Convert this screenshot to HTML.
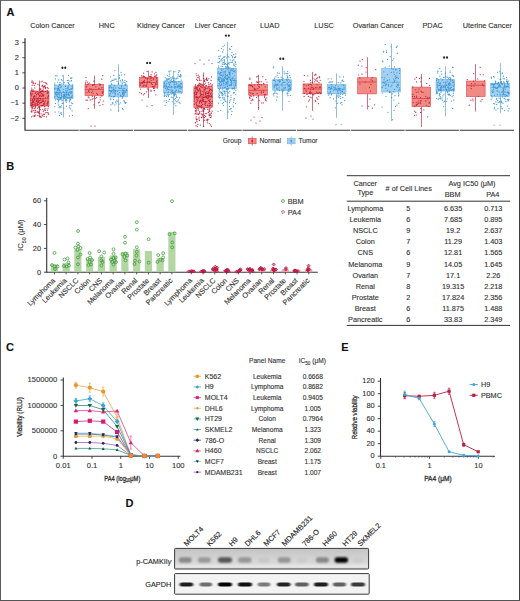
<!DOCTYPE html>
<html><head><meta charset="utf-8"><style>
html,body{margin:0;padding:0;background:#fff;}
body{width:520px;height:601px;overflow:hidden;}
svg{display:block;font-family:"Liberation Sans",sans-serif;}
text{stroke:#333;stroke-width:0.12px;}
</style></head><body>
<svg width="520" height="601" viewBox="0 0 520 601">
<rect x="0" y="0" width="520" height="601" fill="#fff"/>
<text x="6.40" y="16.00" font-size="11" text-anchor="start" font-weight="bold" fill="#111">A</text>
<text x="6.30" y="170.00" font-size="11" text-anchor="start" font-weight="bold" fill="#111">B</text>
<text x="6.10" y="351.00" font-size="11" text-anchor="start" font-weight="bold" fill="#111">C</text>
<text x="341.30" y="351.00" font-size="11" text-anchor="start" font-weight="bold" fill="#111">E</text>
<text x="125.40" y="507.00" font-size="11" text-anchor="start" font-weight="bold" fill="#111">D</text>
<line x1="25.00" y1="38.20" x2="25.00" y2="130.70" stroke="#2a2a2a" stroke-width="1.2"/>
<line x1="22.40" y1="42.55" x2="25.00" y2="42.55" stroke="#333" stroke-width="0.9"/>
<text x="18.90" y="44.75" font-size="7.4" text-anchor="end" font-weight="normal" fill="#333">3</text>
<line x1="22.40" y1="57.70" x2="25.00" y2="57.70" stroke="#333" stroke-width="0.9"/>
<text x="18.90" y="59.90" font-size="7.4" text-anchor="end" font-weight="normal" fill="#333">2</text>
<line x1="22.40" y1="72.85" x2="25.00" y2="72.85" stroke="#333" stroke-width="0.9"/>
<text x="18.90" y="75.05" font-size="7.4" text-anchor="end" font-weight="normal" fill="#333">1</text>
<line x1="22.40" y1="88.00" x2="25.00" y2="88.00" stroke="#333" stroke-width="0.9"/>
<text x="18.90" y="90.20" font-size="7.4" text-anchor="end" font-weight="normal" fill="#333">0</text>
<line x1="22.40" y1="103.15" x2="25.00" y2="103.15" stroke="#333" stroke-width="0.9"/>
<text x="18.90" y="105.35" font-size="7.4" text-anchor="end" font-weight="normal" fill="#333">&#8722;1</text>
<line x1="22.40" y1="118.30" x2="25.00" y2="118.30" stroke="#333" stroke-width="0.9"/>
<text x="18.90" y="120.50" font-size="7.4" text-anchor="end" font-weight="normal" fill="#333">&#8722;2</text>
<line x1="25.20" y1="130.20" x2="78.70" y2="130.20" stroke="#333" stroke-width="1.1"/>
<text x="52.45" y="27.90" font-size="7.3" text-anchor="middle" font-weight="normal" fill="#333">Colon Cancer</text>
<line x1="79.50" y1="130.20" x2="133.00" y2="130.20" stroke="#333" stroke-width="1.1"/>
<text x="106.75" y="27.90" font-size="7.3" text-anchor="middle" font-weight="normal" fill="#333">HNC</text>
<line x1="133.80" y1="130.20" x2="187.30" y2="130.20" stroke="#333" stroke-width="1.1"/>
<text x="161.05" y="27.90" font-size="7.3" text-anchor="middle" font-weight="normal" fill="#333">Kidney Cancer</text>
<line x1="188.10" y1="130.20" x2="241.70" y2="130.20" stroke="#333" stroke-width="1.1"/>
<text x="215.40" y="27.90" font-size="7.3" text-anchor="middle" font-weight="normal" fill="#333">Liver Cancer</text>
<line x1="242.50" y1="130.20" x2="296.00" y2="130.20" stroke="#333" stroke-width="1.1"/>
<text x="269.75" y="27.90" font-size="7.3" text-anchor="middle" font-weight="normal" fill="#333">LUAD</text>
<line x1="296.80" y1="130.20" x2="350.30" y2="130.20" stroke="#333" stroke-width="1.1"/>
<text x="324.05" y="27.90" font-size="7.3" text-anchor="middle" font-weight="normal" fill="#333">LUSC</text>
<line x1="351.10" y1="130.20" x2="404.60" y2="130.20" stroke="#333" stroke-width="1.1"/>
<text x="378.35" y="27.90" font-size="7.3" text-anchor="middle" font-weight="normal" fill="#333">Ovarian Cancer</text>
<line x1="405.40" y1="130.20" x2="458.90" y2="130.20" stroke="#333" stroke-width="1.1"/>
<text x="432.65" y="27.90" font-size="7.3" text-anchor="middle" font-weight="normal" fill="#333">PDAC</text>
<line x1="459.70" y1="130.20" x2="514.00" y2="130.20" stroke="#333" stroke-width="1.1"/>
<text x="487.35" y="27.90" font-size="7.3" text-anchor="middle" font-weight="normal" fill="#333">Uterine Cancer</text>
<line x1="39.50" y1="80.60" x2="39.50" y2="91.00" stroke="#c44a66" stroke-width="0.8"/>
<line x1="39.50" y1="106.00" x2="39.50" y2="117.50" stroke="#c44a66" stroke-width="0.8"/>
<rect x="30.40" y="91.00" width="18.60" height="15.00" fill="#f28a84" stroke="#d9454f" stroke-width="0.6"/>
<line x1="30.40" y1="98.60" x2="49.00" y2="98.60" stroke="#d9454f" stroke-width="0.9"/>
<path d="M42.42 95.71h0.01M32.00 104.22h0.01M31.74 88.11h0.01M39.83 96.19h0.01M31.96 109.98h0.01M32.33 101.33h0.01M32.93 107.99h0.01M47.76 101.18h0.01M41.09 113.81h0.01M31.54 116.75h0.01M33.30 104.32h0.01M32.82 91.36h0.01M33.95 91.15h0.01M41.17 117.46h0.01M40.56 91.61h0.01M31.83 90.26h0.01M42.95 105.54h0.01M38.40 101.33h0.01M38.86 92.73h0.01M36.10 112.00h0.01M35.09 103.28h0.01M41.04 81.80h0.01M43.83 94.97h0.01M32.83 91.14h0.01M33.44 82.08h0.01M39.50 107.69h0.01M44.46 114.42h0.01M41.01 102.58h0.01M43.22 105.36h0.01M41.40 91.70h0.01M45.82 87.69h0.01M47.70 92.61h0.01M31.79 82.16h0.01M43.33 101.23h0.01M37.64 102.52h0.01M42.74 90.30h0.01M33.72 110.70h0.01M32.81 100.33h0.01M33.03 116.10h0.01M35.16 105.40h0.01M32.15 80.92h0.01M38.79 112.67h0.01M45.45 91.45h0.01M38.18 104.42h0.01M37.16 91.73h0.01M34.88 102.59h0.01M34.90 104.15h0.01M35.43 83.63h0.01M30.77 99.98h0.01M40.89 89.15h0.01M47.86 103.74h0.01M41.82 93.64h0.01M42.87 85.96h0.01M44.74 106.43h0.01M37.76 112.44h0.01M37.88 84.30h0.01M31.82 110.99h0.01M31.91 108.03h0.01M36.82 100.27h0.01M31.65 104.92h0.01M32.53 104.89h0.01M37.24 98.61h0.01M41.75 102.17h0.01M36.95 103.58h0.01M37.25 105.33h0.01M48.58 113.90h0.01M39.09 113.49h0.01M32.54 93.85h0.01M36.87 99.07h0.01M33.61 96.64h0.01M40.21 102.50h0.01M31.19 106.91h0.01M40.21 109.54h0.01M43.23 95.57h0.01M33.71 97.85h0.01M44.59 109.07h0.01M36.63 94.62h0.01M48.43 101.98h0.01M45.43 110.55h0.01M44.02 82.28h0.01M37.10 100.53h0.01M31.22 111.72h0.01M35.37 107.35h0.01M43.17 100.15h0.01M47.57 110.11h0.01M48.48 95.29h0.01M34.67 108.64h0.01M34.78 95.60h0.01M41.93 101.04h0.01M46.91 105.61h0.01M42.45 105.35h0.01M45.09 87.74h0.01M47.08 112.50h0.01M44.78 106.80h0.01M33.91 98.61h0.01M44.90 85.74h0.01M48.19 88.56h0.01M37.83 115.73h0.01M43.75 114.04h0.01M33.42 101.36h0.01M46.99 103.62h0.01M45.58 100.75h0.01M48.35 92.66h0.01M40.58 92.84h0.01M33.06 89.85h0.01M42.39 101.21h0.01M38.51 94.23h0.01M34.50 112.82h0.01M35.23 83.38h0.01M41.26 96.37h0.01M35.37 106.45h0.01M47.08 93.38h0.01M37.07 101.44h0.01M46.98 84.19h0.01M38.27 102.38h0.01M40.27 109.86h0.01M40.12 92.02h0.01M34.00 110.34h0.01M30.77 99.99h0.01M39.22 100.65h0.01M43.75 91.99h0.01M40.03 89.21h0.01M40.70 95.12h0.01M40.79 99.71h0.01M35.17 93.38h0.01M39.84 95.34h0.01M40.81 117.22h0.01M38.68 100.12h0.01M39.92 88.43h0.01M43.17 89.91h0.01M39.30 85.30h0.01M47.65 102.60h0.01M47.66 91.37h0.01M47.68 97.73h0.01M45.82 112.63h0.01M38.66 102.24h0.01M32.01 102.84h0.01M42.75 98.85h0.01M44.81 102.87h0.01M43.59 103.67h0.01M42.58 94.66h0.01M48.12 112.76h0.01M34.65 116.39h0.01M39.47 109.18h0.01M48.52 95.26h0.01M38.47 101.83h0.01M39.98 92.79h0.01M36.43 94.65h0.01M43.70 104.74h0.01M38.63 112.45h0.01M31.03 100.30h0.01M39.92 90.87h0.01M31.86 111.99h0.01M48.19 96.74h0.01M31.41 105.42h0.01M44.72 103.88h0.01M38.30 97.84h0.01M47.11 104.34h0.01M33.39 102.17h0.01M47.25 90.68h0.01M32.31 82.79h0.01M31.74 91.09h0.01M32.00 94.11h0.01M47.59 87.61h0.01M32.21 85.13h0.01M46.11 83.43h0.01M38.87 107.49h0.01M47.38 91.00h0.01M35.52 110.40h0.01M34.99 107.84h0.01M32.67 108.35h0.01M34.33 100.46h0.01M36.32 101.60h0.01M35.92 92.15h0.01M39.70 116.04h0.01M31.03 103.04h0.01M35.21 107.71h0.01M40.62 116.36h0.01M34.11 100.32h0.01M32.61 102.65h0.01M39.61 103.50h0.01M45.72 87.71h0.01M43.08 88.11h0.01M48.38 106.72h0.01M43.42 86.88h0.01M42.15 115.93h0.01M31.68 89.99h0.01M33.04 104.32h0.01M35.30 114.89h0.01M33.64 106.36h0.01M46.37 116.77h0.01M42.77 109.26h0.01M35.98 96.93h0.01M38.97 106.61h0.01M35.44 105.15h0.01M48.01 108.57h0.01M35.10 112.21h0.01M48.08 96.17h0.01M30.72 94.73h0.01M37.57 108.20h0.01M34.32 85.44h0.01M39.79 100.66h0.01M32.32 107.20h0.01M37.89 98.87h0.01M36.18 100.86h0.01M34.89 99.21h0.01M44.21 86.71h0.01M42.54 91.51h0.01M37.71 93.69h0.01M33.39 83.59h0.01M31.49 95.98h0.01M45.74 82.62h0.01M43.91 110.61h0.01M45.32 88.65h0.01M39.78 107.17h0.01M45.73 108.87h0.01M41.21 105.52h0.01M43.18 111.61h0.01M34.84 87.94h0.01M37.19 104.36h0.01M32.59 99.74h0.01M42.00 105.81h0.01M41.97 86.23h0.01M30.76 93.08h0.01M45.06 86.75h0.01M40.33 98.45h0.01M42.57 85.27h0.01M35.24 115.02h0.01M32.04 105.83h0.01M34.39 96.82h0.01M44.02 116.27h0.01M37.59 111.27h0.01M39.32 96.60h0.01M41.81 90.81h0.01M42.27 81.00h0.01M35.27 104.08h0.01M44.08 101.50h0.01M30.92 93.70h0.01M31.79 112.00h0.01M43.16 96.62h0.01M42.86 114.88h0.01M39.06 95.15h0.01M39.09 111.40h0.01M34.29 115.69h0.01M48.31 114.35h0.01M38.96 100.50h0.01M45.46 97.77h0.01M35.54 110.36h0.01M34.48 96.15h0.01M41.17 105.72h0.01" fill="none" stroke="#bc1a34" stroke-width="1.25" stroke-linecap="round" opacity="0.9"/>
<line x1="63.50" y1="75.00" x2="63.50" y2="85.00" stroke="#78acd6" stroke-width="0.8"/>
<line x1="63.50" y1="98.70" x2="63.50" y2="117.50" stroke="#78acd6" stroke-width="0.8"/>
<rect x="54.40" y="85.00" width="18.60" height="13.70" fill="#a2d0f2" stroke="#6fb3e6" stroke-width="0.6"/>
<line x1="54.40" y1="92.50" x2="73.00" y2="92.50" stroke="#6fb3e6" stroke-width="0.9"/>
<path d="M57.25 89.93h0.01M57.09 88.36h0.01M70.66 97.18h0.01M67.36 80.50h0.01M63.45 94.79h0.01M55.15 112.01h0.01M62.81 103.20h0.01M60.14 92.74h0.01M60.39 97.85h0.01M69.82 99.03h0.01M69.80 107.83h0.01M56.86 92.67h0.01M70.93 105.51h0.01M59.92 84.66h0.01M72.68 84.78h0.01M65.31 99.11h0.01M59.65 84.96h0.01M55.57 99.96h0.01M59.84 106.51h0.01M71.54 102.91h0.01M63.90 92.53h0.01M58.12 99.73h0.01M70.62 108.94h0.01M71.14 97.43h0.01M71.63 77.97h0.01M55.59 75.60h0.01M67.88 87.10h0.01M66.30 97.17h0.01M71.38 91.70h0.01M56.99 95.34h0.01M60.06 82.44h0.01M68.00 93.97h0.01M66.51 99.56h0.01M60.12 91.22h0.01M57.71 82.07h0.01M57.61 88.57h0.01M63.65 97.73h0.01M58.66 111.81h0.01M58.16 86.70h0.01M56.33 94.06h0.01M59.00 89.84h0.01M59.35 95.87h0.01M68.19 82.65h0.01M64.14 82.68h0.01M61.48 97.45h0.01M59.70 90.40h0.01M72.12 95.30h0.01M66.03 100.15h0.01M70.23 100.24h0.01M59.17 94.05h0.01M61.90 99.65h0.01M69.98 100.12h0.01M55.28 93.85h0.01M67.47 90.83h0.01M65.27 100.76h0.01M54.70 84.82h0.01M69.56 105.75h0.01M59.17 107.65h0.01M64.10 96.62h0.01M66.98 95.87h0.01M66.35 106.23h0.01M68.47 86.10h0.01M55.41 78.91h0.01M68.78 95.59h0.01M66.32 94.76h0.01M60.17 113.05h0.01M66.15 97.36h0.01M67.27 97.55h0.01M64.14 95.18h0.01M65.19 94.78h0.01M65.52 86.46h0.01M54.89 96.73h0.01M71.96 88.57h0.01M66.30 102.19h0.01M58.93 100.28h0.01M59.15 84.07h0.01M60.23 106.43h0.01M55.09 88.24h0.01M62.26 75.83h0.01M59.33 92.65h0.01M58.78 79.93h0.01M62.27 100.66h0.01M66.99 94.28h0.01M68.00 97.76h0.01M63.79 108.06h0.01M60.31 99.26h0.01M69.46 115.89h0.01M68.39 93.28h0.01M60.01 98.96h0.01M58.07 102.78h0.01M58.72 88.63h0.01M71.78 78.22h0.01M57.33 99.28h0.01M72.23 86.46h0.01M57.25 96.45h0.01M61.78 95.57h0.01M70.87 93.54h0.01M72.66 103.62h0.01M71.47 80.43h0.01M71.55 89.10h0.01M68.13 97.68h0.01M61.52 105.82h0.01M61.43 95.21h0.01M54.75 89.17h0.01M59.74 97.38h0.01M56.93 75.97h0.01M72.06 110.94h0.01M69.49 94.78h0.01M69.50 100.83h0.01M63.22 89.28h0.01M61.41 93.70h0.01M61.26 97.77h0.01M70.85 88.97h0.01M69.31 101.79h0.01M68.50 94.29h0.01M55.83 94.87h0.01M71.26 93.12h0.01M70.87 91.69h0.01M60.80 107.74h0.01M65.81 88.59h0.01M59.42 115.41h0.01M59.66 90.48h0.01M54.77 83.01h0.01M66.11 93.23h0.01M58.91 94.41h0.01M63.25 91.64h0.01M61.66 114.48h0.01M59.22 85.09h0.01M71.41 80.76h0.01M57.99 97.07h0.01M69.51 97.39h0.01M68.61 75.26h0.01M60.45 84.75h0.01M61.21 86.31h0.01M58.25 93.25h0.01M68.25 88.08h0.01M55.31 92.56h0.01M64.65 95.86h0.01M70.60 78.21h0.01M72.48 115.41h0.01M56.44 92.06h0.01M63.67 96.34h0.01M58.92 89.47h0.01M62.20 80.77h0.01M68.16 80.38h0.01M69.95 81.07h0.01M69.84 89.60h0.01M59.99 87.64h0.01M67.99 82.68h0.01M58.29 88.11h0.01M57.46 92.61h0.01M70.62 99.40h0.01M61.83 83.78h0.01M72.56 87.83h0.01M69.25 84.44h0.01M66.46 92.13h0.01M63.25 96.77h0.01M69.44 92.21h0.01M55.43 103.49h0.01M58.11 90.98h0.01M72.21 96.96h0.01M61.40 79.68h0.01M59.38 99.20h0.01M68.70 83.44h0.01M65.43 96.60h0.01M65.86 90.74h0.01M57.24 94.28h0.01M58.37 101.14h0.01M66.43 92.04h0.01M58.36 104.94h0.01M66.91 100.67h0.01M58.03 93.09h0.01M69.02 89.64h0.01M64.56 98.24h0.01M61.82 96.42h0.01M64.60 94.15h0.01M57.65 89.38h0.01M67.22 88.77h0.01M60.24 84.84h0.01M71.86 96.53h0.01M61.13 87.01h0.01M62.20 103.49h0.01M61.25 112.91h0.01M58.37 97.33h0.01M54.81 106.54h0.01" fill="none" stroke="#3390d0" stroke-width="1.25" stroke-linecap="round" opacity="0.9"/>
<line x1="94.50" y1="75.60" x2="94.50" y2="84.40" stroke="#c44a66" stroke-width="0.8"/>
<line x1="94.50" y1="95.60" x2="94.50" y2="108.70" stroke="#c44a66" stroke-width="0.8"/>
<rect x="85.00" y="84.40" width="18.60" height="11.20" fill="#f28a84" stroke="#d9454f" stroke-width="0.6"/>
<line x1="85.00" y1="89.60" x2="103.60" y2="89.60" stroke="#d9454f" stroke-width="0.9"/>
<path d="M100.07 97.22h0.01M92.61 84.91h0.01M88.23 96.93h0.01M85.57 83.84h0.01M101.68 79.14h0.01M86.90 86.09h0.01M94.38 84.26h0.01M87.93 84.44h0.01M101.96 87.66h0.01M87.26 100.17h0.01M102.70 75.68h0.01M88.85 90.56h0.01M102.86 104.51h0.01M93.99 104.83h0.01M92.28 96.29h0.01M100.14 99.81h0.01M88.18 83.52h0.01M92.58 91.01h0.01M100.53 84.27h0.01M89.23 92.30h0.01M92.50 85.29h0.01M87.52 82.06h0.01M89.75 88.75h0.01M86.04 87.01h0.01M85.99 77.60h0.01M100.39 84.64h0.01M95.20 98.50h0.01M96.59 97.72h0.01M95.79 86.81h0.01M92.96 98.32h0.01M93.19 85.05h0.01M85.72 82.54h0.01M89.53 83.04h0.01M99.04 83.52h0.01M88.53 91.45h0.01M93.82 81.21h0.01M93.05 93.25h0.01M86.95 92.51h0.01M86.03 80.99h0.01M96.76 93.39h0.01M99.30 102.19h0.01M94.51 96.75h0.01M92.10 99.53h0.01M102.42 93.12h0.01M103.23 101.11h0.01M98.48 102.86h0.01M102.97 91.92h0.01M94.15 84.95h0.01M88.27 108.68h0.01M99.49 84.98h0.01M91.62 92.57h0.01M98.91 88.40h0.01M90.25 99.88h0.01M99.98 105.53h0.01M101.86 96.12h0.01M89.05 97.85h0.01M91.04 88.86h0.01M85.96 100.14h0.01M102.16 91.78h0.01M97.53 94.41h0.01M91.00 126.00h0.01M95.00 126.00h0.01" fill="none" stroke="#bc1a34" stroke-width="1.25" stroke-linecap="round" opacity="0.9"/>
<line x1="118.50" y1="64.40" x2="118.50" y2="85.00" stroke="#78acd6" stroke-width="0.8"/>
<line x1="118.50" y1="96.90" x2="118.50" y2="112.00" stroke="#78acd6" stroke-width="0.8"/>
<rect x="108.70" y="85.00" width="18.60" height="11.90" fill="#a2d0f2" stroke="#6fb3e6" stroke-width="0.6"/>
<line x1="108.70" y1="90.60" x2="127.30" y2="90.60" stroke="#6fb3e6" stroke-width="0.9"/>
<path d="M123.13 95.10h0.01M111.07 87.51h0.01M115.48 79.00h0.01M124.71 88.33h0.01M124.89 80.31h0.01M110.88 86.88h0.01M116.10 103.76h0.01M123.36 90.08h0.01M119.39 88.25h0.01M116.96 81.57h0.01M112.18 102.83h0.01M123.76 90.49h0.01M113.57 87.99h0.01M119.55 75.27h0.01M120.95 72.25h0.01M109.61 90.41h0.01M111.69 91.12h0.01M118.23 84.01h0.01M125.12 84.71h0.01M120.76 95.13h0.01M109.40 95.55h0.01M110.91 99.35h0.01M115.43 90.74h0.01M119.60 92.59h0.01M112.68 102.81h0.01M111.43 83.89h0.01M125.86 83.98h0.01M110.72 90.81h0.01M120.49 95.91h0.01M116.24 101.87h0.01M113.76 80.11h0.01M119.12 104.02h0.01M115.31 91.57h0.01M125.87 85.11h0.01M122.20 83.47h0.01M109.79 90.79h0.01M118.57 110.81h0.01M110.05 85.52h0.01M123.02 94.44h0.01M125.94 102.39h0.01M111.56 91.52h0.01M118.13 94.59h0.01M120.55 102.76h0.01M114.57 92.85h0.01M114.40 85.86h0.01M123.09 109.31h0.01M121.88 96.48h0.01M122.41 108.62h0.01M117.37 91.32h0.01M113.07 90.13h0.01M110.90 81.49h0.01M115.04 90.89h0.01M122.49 93.21h0.01M121.81 85.17h0.01M113.79 75.49h0.01M123.19 82.21h0.01M118.42 87.65h0.01M126.37 89.46h0.01M112.91 103.94h0.01M113.69 91.79h0.01M113.25 89.60h0.01M122.43 89.83h0.01M114.88 70.62h0.01M113.31 96.69h0.01M125.34 85.53h0.01M120.97 81.90h0.01M126.62 81.26h0.01M121.56 74.99h0.01M124.44 94.01h0.01M119.27 78.28h0.01M114.54 96.37h0.01M110.40 93.69h0.01M125.39 103.28h0.01M110.92 91.94h0.01M125.72 92.32h0.01M109.52 88.02h0.01M109.75 94.88h0.01M121.55 86.45h0.01M122.26 79.58h0.01M115.54 102.04h0.01M123.72 95.62h0.01M110.19 98.94h0.01M124.62 74.74h0.01M110.93 109.89h0.01M112.70 80.37h0.01M124.26 92.49h0.01M123.62 92.20h0.01M120.37 80.28h0.01M114.17 79.02h0.01M122.63 94.03h0.01M112.69 93.09h0.01M109.38 86.93h0.01M113.62 99.50h0.01M115.62 87.92h0.01M114.77 105.12h0.01M124.32 101.38h0.01M120.13 88.39h0.01M116.86 100.06h0.01M122.91 92.47h0.01M118.68 83.19h0.01M112.90 102.58h0.01M123.76 93.25h0.01M112.07 87.84h0.01M122.72 96.88h0.01M126.60 90.65h0.01M117.85 101.46h0.01M123.34 90.90h0.01M115.25 94.97h0.01M123.97 100.61h0.01M114.11 89.28h0.01M117.97 93.79h0.01M110.98 104.74h0.01M123.18 88.37h0.01M121.55 88.02h0.01M115.40 93.62h0.01M116.22 79.23h0.01M110.55 76.82h0.01M124.99 102.69h0.01M113.74 96.87h0.01M125.22 91.60h0.01M124.91 82.49h0.01M113.20 90.54h0.01M122.58 80.67h0.01M122.55 93.40h0.01M114.88 85.94h0.01M111.80 84.48h0.01M122.36 98.20h0.01M112.05 80.40h0.01M119.43 77.33h0.01M111.27 96.64h0.01" fill="none" stroke="#3390d0" stroke-width="1.25" stroke-linecap="round" opacity="0.9"/>
<line x1="148.50" y1="70.60" x2="148.50" y2="77.50" stroke="#c44a66" stroke-width="0.8"/>
<line x1="148.50" y1="87.20" x2="148.50" y2="98.00" stroke="#c44a66" stroke-width="0.8"/>
<rect x="139.30" y="77.50" width="18.60" height="9.70" fill="#f28a84" stroke="#d9454f" stroke-width="0.6"/>
<line x1="139.30" y1="82.50" x2="157.90" y2="82.50" stroke="#d9454f" stroke-width="0.9"/>
<path d="M143.88 85.93h0.01M152.26 84.62h0.01M154.79 88.01h0.01M144.06 84.79h0.01M145.48 85.85h0.01M145.51 78.15h0.01M143.01 81.89h0.01M141.43 93.63h0.01M156.92 80.64h0.01M157.31 88.01h0.01M153.91 86.59h0.01M143.13 81.67h0.01M151.08 74.62h0.01M146.59 86.21h0.01M140.21 85.45h0.01M152.08 71.93h0.01M148.61 89.81h0.01M142.15 76.93h0.01M150.47 76.38h0.01M155.94 72.43h0.01M147.34 88.96h0.01M147.18 71.47h0.01M143.71 76.97h0.01M153.53 79.85h0.01M151.83 78.02h0.01M145.23 77.36h0.01M150.91 76.16h0.01M153.68 88.44h0.01M152.44 86.70h0.01M147.22 78.64h0.01M147.79 78.41h0.01M151.75 77.00h0.01M156.34 77.23h0.01M153.61 86.65h0.01M146.60 91.78h0.01M140.29 83.71h0.01M153.67 78.27h0.01M156.53 81.32h0.01M149.94 79.10h0.01M149.34 82.09h0.01M151.11 80.69h0.01M154.52 73.80h0.01M156.66 74.95h0.01M143.38 81.46h0.01M153.33 79.53h0.01M141.80 75.71h0.01M140.62 89.00h0.01M144.54 81.82h0.01M147.13 81.52h0.01M147.17 83.17h0.01M144.37 80.29h0.01M143.64 75.95h0.01M149.09 81.56h0.01M146.66 84.93h0.01M143.42 94.80h0.01M154.17 90.80h0.01M151.02 91.26h0.01M143.67 73.15h0.01M156.95 84.23h0.01M154.34 76.11h0.01M154.29 90.43h0.01M149.47 76.43h0.01M141.85 83.66h0.01M154.91 85.78h0.01M144.41 76.50h0.01M147.27 78.46h0.01M142.95 86.24h0.01M144.66 93.65h0.01M144.01 82.69h0.01M147.31 79.79h0.01M151.07 90.05h0.01M156.32 78.70h0.01M154.98 76.57h0.01M155.90 94.75h0.01M153.71 87.09h0.01M151.00 90.86h0.01M139.87 92.66h0.01M151.41 83.74h0.01M142.17 82.50h0.01M143.81 85.73h0.01M142.35 83.56h0.01M155.87 75.75h0.01M155.64 83.59h0.01M150.55 78.16h0.01M155.69 84.52h0.01M147.00 106.00h0.01M152.00 105.50h0.01M142.00 100.00h0.01" fill="none" stroke="#bc1a34" stroke-width="1.25" stroke-linecap="round" opacity="0.9"/>
<line x1="173.50" y1="70.60" x2="173.50" y2="81.25" stroke="#78acd6" stroke-width="0.8"/>
<line x1="173.50" y1="93.00" x2="173.50" y2="115.00" stroke="#78acd6" stroke-width="0.8"/>
<rect x="163.70" y="81.25" width="18.60" height="11.75" fill="#a2d0f2" stroke="#6fb3e6" stroke-width="0.6"/>
<line x1="163.70" y1="87.00" x2="182.30" y2="87.00" stroke="#6fb3e6" stroke-width="0.9"/>
<path d="M178.19 74.57h0.01M176.47 90.13h0.01M173.55 82.20h0.01M179.89 86.53h0.01M173.99 77.84h0.01M166.51 86.43h0.01M172.88 93.48h0.01M166.60 96.32h0.01M172.84 90.59h0.01M179.53 76.38h0.01M164.12 87.13h0.01M174.13 92.40h0.01M175.98 78.93h0.01M171.54 91.65h0.01M181.29 80.03h0.01M175.45 98.28h0.01M164.51 92.78h0.01M180.77 77.02h0.01M169.95 78.78h0.01M172.72 97.57h0.01M180.16 85.83h0.01M175.26 100.85h0.01M170.09 89.99h0.01M172.54 92.49h0.01M173.46 80.78h0.01M171.83 87.79h0.01M171.60 81.18h0.01M169.27 71.94h0.01M178.90 81.68h0.01M168.89 78.69h0.01M173.12 92.99h0.01M178.26 99.82h0.01M169.96 85.05h0.01M174.56 84.06h0.01M175.43 93.85h0.01M177.01 87.54h0.01M179.94 84.62h0.01M169.41 84.39h0.01M164.11 86.23h0.01M174.96 94.40h0.01M175.84 105.67h0.01M175.01 91.74h0.01M176.54 78.10h0.01M174.73 78.98h0.01M176.01 84.52h0.01M172.24 81.65h0.01M167.26 87.33h0.01M164.67 83.07h0.01M175.80 90.03h0.01M178.16 76.22h0.01M174.12 99.15h0.01M171.59 86.64h0.01M169.73 94.54h0.01M180.81 75.92h0.01M164.98 92.38h0.01M166.14 84.80h0.01M178.59 86.00h0.01M172.04 78.29h0.01M174.66 95.77h0.01M180.88 87.78h0.01M171.42 97.04h0.01M165.84 85.83h0.01M166.73 83.37h0.01M164.28 82.35h0.01M166.19 100.50h0.01M181.39 87.41h0.01M166.32 102.28h0.01M164.32 96.45h0.01M177.20 85.78h0.01M167.37 80.76h0.01M176.84 101.60h0.01M179.40 91.76h0.01M175.32 86.55h0.01M176.77 83.45h0.01M168.57 92.07h0.01M164.21 100.79h0.01M164.27 83.99h0.01M165.43 77.81h0.01M169.60 74.23h0.01M179.50 86.34h0.01M172.75 81.90h0.01M174.35 94.93h0.01M171.90 90.13h0.01M178.35 84.88h0.01M170.54 82.72h0.01M171.52 79.62h0.01M170.94 77.50h0.01M178.12 91.84h0.01M165.09 80.52h0.01M181.53 84.11h0.01M169.98 82.37h0.01M174.90 71.69h0.01M174.82 103.63h0.01M169.55 84.73h0.01M170.78 70.91h0.01M176.33 95.09h0.01M178.53 72.43h0.01M169.10 76.16h0.01M171.61 93.95h0.01M174.56 87.07h0.01M164.76 94.50h0.01M179.00 70.68h0.01M174.29 93.77h0.01M168.93 71.13h0.01M176.32 96.59h0.01M180.45 74.55h0.01M173.97 84.94h0.01M178.35 90.08h0.01M180.77 91.54h0.01M168.21 101.11h0.01M172.38 76.95h0.01M167.72 79.01h0.01M178.25 86.58h0.01M172.27 101.84h0.01M177.90 100.75h0.01M168.19 95.45h0.01M179.93 71.04h0.01M173.39 78.28h0.01M167.40 75.74h0.01M167.46 88.74h0.01M170.53 92.84h0.01M174.16 99.54h0.01M166.68 78.58h0.01M164.80 93.18h0.01M165.91 95.62h0.01M175.39 86.85h0.01M174.75 88.21h0.01M170.21 82.16h0.01M164.60 85.27h0.01M181.83 86.79h0.01M174.21 93.85h0.01M168.71 79.66h0.01M181.04 88.71h0.01M177.81 78.16h0.01M168.57 96.60h0.01M167.25 92.80h0.01M165.51 88.41h0.01M179.67 97.79h0.01M172.25 90.58h0.01M165.16 105.47h0.01M174.77 80.90h0.01M181.27 83.55h0.01M168.63 89.70h0.01M181.22 75.78h0.01M176.05 82.19h0.01M166.88 79.72h0.01M181.38 93.04h0.01M164.70 93.29h0.01M168.61 86.69h0.01M180.28 75.99h0.01M179.07 102.40h0.01M176.77 101.96h0.01M175.64 91.56h0.01M166.61 90.00h0.01M177.59 86.74h0.01M169.38 99.42h0.01M174.65 82.23h0.01M169.83 87.21h0.01M168.63 82.98h0.01M167.03 94.25h0.01M168.29 94.17h0.01M164.23 95.33h0.01M176.91 97.49h0.01M180.70 87.82h0.01M167.97 89.27h0.01M180.00 103.36h0.01M166.52 80.10h0.01M180.72 83.36h0.01M179.16 88.31h0.01M170.12 80.52h0.01" fill="none" stroke="#3390d0" stroke-width="1.25" stroke-linecap="round" opacity="0.9"/>
<line x1="203.50" y1="72.50" x2="203.50" y2="86.70" stroke="#c44a66" stroke-width="0.8"/>
<line x1="203.50" y1="107.50" x2="203.50" y2="126.70" stroke="#c44a66" stroke-width="0.8"/>
<rect x="193.90" y="86.70" width="18.60" height="20.80" fill="#f28a84" stroke="#d9454f" stroke-width="0.6"/>
<line x1="193.90" y1="97.00" x2="212.50" y2="97.00" stroke="#d9454f" stroke-width="0.9"/>
<path d="M209.02 84.89h0.01M196.77 75.72h0.01M198.19 100.08h0.01M204.16 120.09h0.01M196.80 105.60h0.01M201.61 105.43h0.01M197.00 88.27h0.01M200.22 93.13h0.01M197.22 126.54h0.01M210.46 83.65h0.01M196.26 97.77h0.01M210.31 102.28h0.01M206.23 96.30h0.01M199.35 101.29h0.01M198.84 114.22h0.01M212.04 101.44h0.01M212.17 111.15h0.01M199.41 103.29h0.01M210.33 93.86h0.01M199.48 120.47h0.01M211.82 105.86h0.01M200.34 125.12h0.01M196.72 99.84h0.01M203.68 126.43h0.01M197.54 97.36h0.01M198.13 110.59h0.01M197.44 89.49h0.01M208.07 93.39h0.01M195.63 94.58h0.01M195.77 87.18h0.01M199.13 83.12h0.01M197.91 85.73h0.01M208.81 78.77h0.01M204.69 81.44h0.01M207.39 98.70h0.01M201.55 102.49h0.01M208.79 96.09h0.01M200.23 91.92h0.01M203.07 114.00h0.01M202.78 100.31h0.01M197.55 105.50h0.01M209.17 88.34h0.01M200.88 90.87h0.01M204.91 103.90h0.01M202.22 115.86h0.01M203.48 97.55h0.01M208.90 114.90h0.01M209.78 113.97h0.01M201.07 86.61h0.01M207.72 119.15h0.01M211.37 126.33h0.01M203.11 108.87h0.01M203.87 78.27h0.01M194.57 95.43h0.01M197.48 107.85h0.01M196.05 94.79h0.01M194.74 96.92h0.01M195.94 125.72h0.01M194.52 93.83h0.01M204.99 87.45h0.01M206.85 80.51h0.01M196.05 88.41h0.01M195.01 113.89h0.01M196.41 79.25h0.01M199.23 79.00h0.01M196.40 97.74h0.01M204.85 90.12h0.01M209.70 101.72h0.01M207.64 109.23h0.01M197.16 113.23h0.01M201.20 113.87h0.01M203.66 111.28h0.01M208.18 119.62h0.01M200.23 91.02h0.01M202.04 106.81h0.01M210.63 124.95h0.01M208.87 93.75h0.01M203.51 99.98h0.01M211.44 92.85h0.01M201.80 107.81h0.01M205.59 92.36h0.01M195.45 84.62h0.01M201.99 111.42h0.01M196.71 93.87h0.01M211.65 96.91h0.01M205.60 103.09h0.01M210.12 108.77h0.01M198.98 118.80h0.01M206.41 101.78h0.01M210.84 94.20h0.01M205.38 116.26h0.01M202.01 96.93h0.01M211.32 115.88h0.01M205.86 93.95h0.01M196.37 109.93h0.01M203.45 75.67h0.01M203.81 95.02h0.01M196.87 114.34h0.01M199.48 102.89h0.01M201.52 102.81h0.01M195.78 94.28h0.01M204.03 108.30h0.01M204.46 108.43h0.01M205.91 79.28h0.01M202.50 104.40h0.01M204.06 120.38h0.01M199.79 83.95h0.01M198.56 85.81h0.01M201.10 100.32h0.01M204.74 115.38h0.01M209.71 111.49h0.01M198.49 98.08h0.01M199.33 80.34h0.01M211.98 90.81h0.01M197.05 89.59h0.01M195.40 122.71h0.01M195.32 108.58h0.01M201.18 85.09h0.01M196.17 73.84h0.01M198.25 106.37h0.01M196.98 121.69h0.01M200.27 90.67h0.01M205.29 83.24h0.01M209.50 115.69h0.01M207.50 105.14h0.01M207.58 80.36h0.01M208.33 98.08h0.01M206.95 79.68h0.01M209.87 103.99h0.01M194.28 92.93h0.01M203.16 99.03h0.01M211.53 76.81h0.01M208.31 82.70h0.01M209.91 90.05h0.01M202.34 85.34h0.01M202.44 87.68h0.01M201.23 94.86h0.01M204.20 84.46h0.01M208.37 86.92h0.01M209.49 106.11h0.01M197.52 80.44h0.01M199.67 97.05h0.01M204.67 109.50h0.01M195.78 113.11h0.01M209.38 109.08h0.01M209.29 90.50h0.01M201.88 107.18h0.01M210.59 94.35h0.01M204.37 101.85h0.01M203.15 97.33h0.01M203.89 120.55h0.01M212.17 84.36h0.01M206.53 78.67h0.01M201.21 94.98h0.01M200.52 84.14h0.01M211.26 113.32h0.01M195.98 88.69h0.01M200.94 80.30h0.01M204.53 81.06h0.01M210.04 108.66h0.01M202.12 114.55h0.01M205.44 93.09h0.01M203.74 111.28h0.01M208.89 96.66h0.01M211.81 103.51h0.01M209.07 108.98h0.01M210.30 89.63h0.01M206.62 96.42h0.01M210.19 117.33h0.01M199.42 89.17h0.01M203.41 101.33h0.01M197.48 87.14h0.01M205.54 96.70h0.01M212.09 85.63h0.01M205.66 88.39h0.01M208.38 112.48h0.01M199.72 101.21h0.01M199.68 96.51h0.01M209.36 95.74h0.01M197.74 77.55h0.01M203.16 85.30h0.01M205.84 85.65h0.01M203.77 93.05h0.01M201.60 117.36h0.01M196.39 96.64h0.01M196.12 111.54h0.01M196.00 118.92h0.01M209.02 106.07h0.01M205.23 113.63h0.01M194.42 98.94h0.01M208.07 91.87h0.01M200.57 86.30h0.01M197.25 119.16h0.01M210.47 96.27h0.01M204.68 104.09h0.01M201.14 87.27h0.01M195.18 110.85h0.01M211.47 112.91h0.01M202.11 84.18h0.01M194.99 88.57h0.01M210.95 89.07h0.01M210.38 105.28h0.01M208.89 86.49h0.01M211.48 90.13h0.01M203.12 116.97h0.01M201.22 108.05h0.01M207.13 93.46h0.01M209.96 99.39h0.01M202.92 110.18h0.01M197.32 100.09h0.01M200.65 86.00h0.01M199.43 113.13h0.01M203.81 90.01h0.01M201.14 94.15h0.01M196.42 92.39h0.01M209.06 100.28h0.01M197.64 90.19h0.01M199.30 106.39h0.01M206.16 97.33h0.01M200.35 101.14h0.01M195.87 110.59h0.01M199.05 117.23h0.01M202.18 101.15h0.01M209.25 90.12h0.01M200.55 100.10h0.01M207.20 88.53h0.01M197.95 124.45h0.01M198.29 114.60h0.01M202.35 91.50h0.01M198.89 113.59h0.01M210.39 114.88h0.01M198.63 84.52h0.01M205.15 89.35h0.01M196.41 104.37h0.01M199.07 77.95h0.01M208.09 95.44h0.01M204.42 80.24h0.01M199.79 112.10h0.01M197.39 92.01h0.01M209.52 101.21h0.01M196.16 87.27h0.01M204.32 117.72h0.01M199.55 85.40h0.01M195.39 111.03h0.01M196.47 92.89h0.01M207.10 107.35h0.01M210.56 93.86h0.01M208.15 112.51h0.01M196.58 119.94h0.01M199.18 76.59h0.01M206.14 120.10h0.01M200.53 101.34h0.01M206.79 77.88h0.01M198.67 108.93h0.01M205.52 105.29h0.01M197.47 85.31h0.01M207.41 122.77h0.01M207.03 119.79h0.01M197.12 101.31h0.01M197.77 98.12h0.01M194.91 92.10h0.01M199.80 111.41h0.01M209.31 90.79h0.01M204.46 89.65h0.01M202.03 94.56h0.01M206.52 85.54h0.01M209.22 96.61h0.01M208.18 97.56h0.01M209.57 95.98h0.01M205.13 101.50h0.01M196.20 108.15h0.01M208.45 100.42h0.01M207.69 105.56h0.01M201.29 117.57h0.01M207.66 109.36h0.01M195.82 103.01h0.01M211.23 86.07h0.01M206.65 113.53h0.01M205.51 94.94h0.01M206.77 92.12h0.01M201.91 98.52h0.01M196.50 94.38h0.01M206.85 97.35h0.01M208.70 92.44h0.01M211.65 95.65h0.01M205.68 116.54h0.01M195.27 85.86h0.01M200.64 93.84h0.01M199.79 88.29h0.01M196.66 102.51h0.01M198.48 90.92h0.01M198.55 75.06h0.01M211.05 80.49h0.01M200.53 95.40h0.01M196.75 87.30h0.01M208.88 84.31h0.01M204.07 91.67h0.01M206.20 97.63h0.01M204.98 87.72h0.01M209.16 103.41h0.01M200.69 106.69h0.01M197.92 105.48h0.01M197.75 108.75h0.01M206.83 101.68h0.01M200.04 89.91h0.01M202.64 99.45h0.01M195.49 90.96h0.01M194.39 104.17h0.01M195.71 122.93h0.01M207.11 95.74h0.01M196.16 116.91h0.01M203.00 94.56h0.01M203.98 87.92h0.01M194.35 101.06h0.01M205.50 116.60h0.01M211.03 86.36h0.01M198.63 90.32h0.01M196.70 87.48h0.01M209.31 123.48h0.01M199.53 101.65h0.01M209.42 105.73h0.01M210.88 117.43h0.01M209.15 110.38h0.01M207.56 120.79h0.01M209.06 92.48h0.01M199.96 105.82h0.01M200.85 83.89h0.01M209.17 111.50h0.01M204.40 97.30h0.01M205.51 101.51h0.01M195.00 63.50h0.01M200.00 60.00h0.01M204.00 64.00h0.01M209.00 60.00h0.01M212.00 63.50h0.01" fill="none" stroke="#bc1a34" stroke-width="1.25" stroke-linecap="round" opacity="0.9"/>
<line x1="227.50" y1="41.70" x2="227.50" y2="68.30" stroke="#78acd6" stroke-width="0.8"/>
<line x1="227.50" y1="88.30" x2="227.50" y2="119.00" stroke="#78acd6" stroke-width="0.8"/>
<rect x="217.70" y="68.30" width="18.60" height="20.00" fill="#a2d0f2" stroke="#6fb3e6" stroke-width="0.6"/>
<line x1="217.70" y1="78.30" x2="236.30" y2="78.30" stroke="#6fb3e6" stroke-width="0.9"/>
<path d="M234.29 88.14h0.01M235.01 57.29h0.01M220.83 60.85h0.01M223.39 78.92h0.01M230.38 73.00h0.01M220.95 75.34h0.01M219.61 92.02h0.01M221.43 93.76h0.01M231.01 82.26h0.01M233.40 106.74h0.01M232.16 78.80h0.01M229.91 67.50h0.01M227.26 83.77h0.01M225.90 66.43h0.01M229.99 84.71h0.01M220.96 93.07h0.01M223.32 49.78h0.01M224.27 60.40h0.01M221.52 84.98h0.01M226.29 89.59h0.01M235.48 84.98h0.01M235.54 103.26h0.01M235.31 62.17h0.01M219.08 58.54h0.01M230.18 59.77h0.01M228.28 68.66h0.01M235.15 70.41h0.01M223.39 57.04h0.01M224.18 80.89h0.01M221.40 80.95h0.01M230.22 75.97h0.01M229.89 72.38h0.01M224.70 80.33h0.01M227.54 64.84h0.01M228.17 70.82h0.01M221.25 72.49h0.01M234.02 82.73h0.01M233.52 71.39h0.01M222.56 76.14h0.01M222.53 93.40h0.01M226.81 88.56h0.01M228.31 68.27h0.01M220.03 74.76h0.01M219.44 58.60h0.01M225.34 76.66h0.01M233.54 92.59h0.01M227.91 85.41h0.01M220.06 72.80h0.01M235.83 53.96h0.01M232.94 77.08h0.01M225.06 71.52h0.01M228.13 96.18h0.01M231.95 111.43h0.01M219.04 95.06h0.01M222.26 97.75h0.01M228.70 76.50h0.01M221.84 80.16h0.01M225.67 71.12h0.01M234.00 100.43h0.01M228.13 56.52h0.01M234.52 57.54h0.01M231.42 84.49h0.01M224.15 71.77h0.01M232.86 80.22h0.01M220.21 55.97h0.01M235.06 61.36h0.01M230.99 95.67h0.01M219.79 97.74h0.01M227.88 83.75h0.01M234.66 80.68h0.01M230.15 71.43h0.01M226.04 78.02h0.01M233.09 88.02h0.01M218.38 71.95h0.01M219.99 74.74h0.01M227.98 81.27h0.01M223.22 69.28h0.01M220.60 72.71h0.01M233.76 64.89h0.01M232.55 56.27h0.01M235.08 72.87h0.01M220.72 91.83h0.01M227.03 79.48h0.01M218.64 96.90h0.01M221.28 59.24h0.01M225.07 87.61h0.01M226.56 57.95h0.01M225.08 93.91h0.01M233.71 102.33h0.01M223.93 73.78h0.01M221.89 74.52h0.01M218.79 93.86h0.01M221.06 66.07h0.01M228.39 67.60h0.01M224.98 91.07h0.01M228.42 77.31h0.01M224.01 79.59h0.01M235.76 94.62h0.01M218.82 80.42h0.01M222.91 91.77h0.01M222.92 95.85h0.01M228.24 66.73h0.01M227.51 78.30h0.01M218.61 65.95h0.01M233.70 54.65h0.01M231.94 68.83h0.01M224.53 64.19h0.01M223.07 62.67h0.01M234.90 86.76h0.01M230.26 49.38h0.01M231.31 69.92h0.01M227.16 102.05h0.01M227.91 69.20h0.01M225.31 67.95h0.01M223.82 90.80h0.01M235.79 83.29h0.01M222.38 64.20h0.01M222.23 79.95h0.01M218.13 73.62h0.01M233.68 84.80h0.01M228.24 62.88h0.01M223.44 82.98h0.01M223.43 80.98h0.01M223.55 83.10h0.01M234.87 75.55h0.01M224.13 59.72h0.01M219.44 95.58h0.01M221.22 68.97h0.01M224.43 57.03h0.01M233.63 80.70h0.01M219.22 62.80h0.01M222.97 46.67h0.01M222.64 81.39h0.01M222.82 87.10h0.01M230.68 79.59h0.01M221.61 81.26h0.01M228.85 92.99h0.01M221.54 92.39h0.01M231.21 62.13h0.01M219.43 97.88h0.01M232.57 73.68h0.01M220.46 87.92h0.01M221.39 68.75h0.01M229.52 48.83h0.01M234.61 71.33h0.01M231.49 81.40h0.01M229.68 91.13h0.01M224.08 59.78h0.01M219.03 90.83h0.01M229.27 74.41h0.01M224.02 80.62h0.01M222.63 58.29h0.01M226.34 79.01h0.01M228.15 111.97h0.01M235.78 81.18h0.01M231.03 97.52h0.01M223.92 85.36h0.01M220.57 85.50h0.01M231.81 83.09h0.01M225.62 101.29h0.01M227.70 92.86h0.01M229.83 62.26h0.01M228.83 68.34h0.01M222.64 66.44h0.01M230.81 99.61h0.01M223.57 80.44h0.01M231.91 52.73h0.01M223.01 94.44h0.01M227.42 75.99h0.01M218.16 85.65h0.01M226.56 75.44h0.01M224.52 63.96h0.01M235.81 57.10h0.01M219.62 81.71h0.01M218.50 103.01h0.01M227.03 81.78h0.01M227.99 82.20h0.01M224.58 92.91h0.01M220.69 110.29h0.01M234.59 88.99h0.01M220.92 100.09h0.01M222.37 103.62h0.01M235.68 82.97h0.01M224.20 57.20h0.01M232.41 78.44h0.01M234.26 65.58h0.01M219.94 81.56h0.01M229.62 77.73h0.01M225.23 72.87h0.01M228.16 81.73h0.01M225.38 74.37h0.01M229.29 109.51h0.01M222.03 60.92h0.01M225.81 78.16h0.01M222.16 89.87h0.01M229.57 85.56h0.01M223.37 102.26h0.01M228.25 88.66h0.01M220.82 77.93h0.01M222.81 97.82h0.01M231.53 55.61h0.01M223.97 83.64h0.01M226.74 67.45h0.01M230.29 85.12h0.01M228.76 72.73h0.01M233.89 59.62h0.01M221.78 83.98h0.01M232.04 88.74h0.01M233.54 68.93h0.01M235.91 90.53h0.01M223.36 105.29h0.01M235.54 85.43h0.01M218.17 79.40h0.01M231.25 85.51h0.01M219.76 73.83h0.01M219.62 89.29h0.01M224.11 97.92h0.01M233.88 98.83h0.01M235.63 66.76h0.01M232.26 88.92h0.01M230.41 80.53h0.01M222.17 95.39h0.01M225.75 82.45h0.01M235.83 80.65h0.01M223.70 80.12h0.01M226.77 83.73h0.01M220.44 73.10h0.01M230.34 69.91h0.01M220.66 82.35h0.01M220.02 77.01h0.01M224.36 60.86h0.01M224.29 45.07h0.01M221.87 79.08h0.01M231.17 108.41h0.01M222.91 72.07h0.01M219.24 83.44h0.01M218.78 88.74h0.01M228.02 63.13h0.01M224.53 77.46h0.01M229.76 100.90h0.01M227.79 79.81h0.01M235.68 56.64h0.01M233.73 71.44h0.01M223.73 75.29h0.01M225.54 63.63h0.01M224.94 92.77h0.01M225.38 75.82h0.01M218.09 111.37h0.01M222.58 51.90h0.01M229.00 57.06h0.01M221.57 70.42h0.01M220.09 85.99h0.01M234.35 92.64h0.01M218.89 56.64h0.01M229.63 73.79h0.01M227.88 65.96h0.01M218.02 62.43h0.01M231.43 114.58h0.01M228.66 89.03h0.01M235.91 64.19h0.01M231.38 80.34h0.01M224.82 99.11h0.01M227.47 74.81h0.01M229.03 63.88h0.01M229.32 72.52h0.01M227.78 66.56h0.01M222.77 81.72h0.01M234.36 98.44h0.01M227.40 54.91h0.01M226.58 82.27h0.01M234.69 79.78h0.01M227.52 86.38h0.01M232.64 60.34h0.01M222.30 75.58h0.01M226.29 91.22h0.01M229.53 102.65h0.01M233.62 93.00h0.01M218.78 50.51h0.01M232.72 57.72h0.01M220.21 97.32h0.01M219.85 84.72h0.01M224.42 87.59h0.01M226.15 84.21h0.01M219.58 61.29h0.01M230.51 109.12h0.01M232.37 62.22h0.01M231.66 83.60h0.01M224.60 91.48h0.01M227.37 96.41h0.01M224.12 79.41h0.01M224.86 92.54h0.01M228.27 88.17h0.01M219.04 79.41h0.01M222.94 88.56h0.01M223.83 99.57h0.01M219.64 79.74h0.01M229.45 106.39h0.01M225.62 84.59h0.01M232.26 70.58h0.01M218.79 67.74h0.01M225.97 68.65h0.01M223.31 62.57h0.01M225.34 95.66h0.01M224.34 62.14h0.01M224.94 56.58h0.01M221.45 48.59h0.01M235.48 62.28h0.01M229.98 74.90h0.01M223.93 64.39h0.01M224.83 100.80h0.01M227.46 89.02h0.01M231.63 46.38h0.01M218.46 78.98h0.01M226.32 64.50h0.01M233.11 69.20h0.01M234.03 63.84h0.01M225.92 86.87h0.01M232.84 60.56h0.01M230.07 79.27h0.01M218.73 77.40h0.01" fill="none" stroke="#3390d0" stroke-width="1.25" stroke-linecap="round" opacity="0.9"/>
<line x1="258.50" y1="74.70" x2="258.50" y2="84.60" stroke="#c44a66" stroke-width="0.8"/>
<line x1="258.50" y1="95.20" x2="258.50" y2="110.00" stroke="#c44a66" stroke-width="0.8"/>
<rect x="248.70" y="84.60" width="18.60" height="10.60" fill="#f28a84" stroke="#d9454f" stroke-width="0.6"/>
<line x1="248.70" y1="90.30" x2="267.30" y2="90.30" stroke="#d9454f" stroke-width="0.9"/>
<path d="M261.24 81.74h0.01M262.86 76.64h0.01M251.13 85.49h0.01M263.71 90.83h0.01M250.83 93.16h0.01M259.16 100.64h0.01M249.99 96.70h0.01M257.69 84.70h0.01M249.99 78.21h0.01M259.51 87.11h0.01M266.97 82.10h0.01M251.62 96.31h0.01M249.11 85.13h0.01M266.80 97.88h0.01M254.63 89.28h0.01M253.59 95.90h0.01M258.20 96.15h0.01M256.56 81.95h0.01M264.60 96.18h0.01M263.44 92.26h0.01M252.64 93.78h0.01M249.94 85.19h0.01M257.36 82.34h0.01M257.80 88.42h0.01M263.43 83.32h0.01M252.60 86.25h0.01M249.92 98.40h0.01M254.66 85.07h0.01M259.17 81.81h0.01M254.82 88.51h0.01M254.25 88.08h0.01M261.79 103.12h0.01M257.18 93.45h0.01M265.83 79.58h0.01M250.04 95.36h0.01M249.88 79.26h0.01M264.53 94.50h0.01M252.24 99.11h0.01M265.60 94.58h0.01M257.97 76.21h0.01M261.13 84.61h0.01M252.80 87.09h0.01M264.09 84.00h0.01M252.72 100.20h0.01M250.82 103.19h0.01M266.12 100.82h0.01M256.46 97.47h0.01M265.31 86.76h0.01M261.35 84.81h0.01M261.52 91.70h0.01M249.75 92.35h0.01M253.19 93.42h0.01M259.48 84.26h0.01M251.77 85.76h0.01M265.41 98.77h0.01M251.73 82.99h0.01M263.39 102.75h0.01M249.59 97.49h0.01M255.84 89.25h0.01M258.82 86.49h0.01M250.68 85.65h0.01M256.74 76.99h0.01M261.22 92.90h0.01M251.20 100.58h0.01M265.62 99.29h0.01M258.47 107.51h0.01M254.23 89.81h0.01M257.94 82.17h0.01M265.74 100.19h0.01M264.55 97.28h0.01M251.00 120.00h0.01M256.00 123.00h0.01M260.00 121.00h0.01M254.00 117.00h0.01M262.00 117.50h0.01" fill="none" stroke="#bc1a34" stroke-width="1.25" stroke-linecap="round" opacity="0.9"/>
<line x1="282.50" y1="66.20" x2="282.50" y2="79.70" stroke="#78acd6" stroke-width="0.8"/>
<line x1="282.50" y1="90.30" x2="282.50" y2="110.80" stroke="#78acd6" stroke-width="0.8"/>
<rect x="272.70" y="79.70" width="18.60" height="10.60" fill="#a2d0f2" stroke="#6fb3e6" stroke-width="0.6"/>
<line x1="272.70" y1="85.00" x2="291.30" y2="85.00" stroke="#6fb3e6" stroke-width="0.9"/>
<path d="M283.76 90.00h0.01M275.51 81.73h0.01M277.88 84.14h0.01M277.09 96.89h0.01M289.64 75.54h0.01M290.41 95.41h0.01M279.20 87.15h0.01M273.90 95.80h0.01M279.00 81.07h0.01M286.36 79.37h0.01M276.22 86.85h0.01M274.25 86.55h0.01M283.07 78.57h0.01M287.18 93.21h0.01M283.72 90.63h0.01M282.24 83.00h0.01M274.75 85.49h0.01M283.40 82.47h0.01M279.35 81.67h0.01M275.95 76.81h0.01M276.05 93.22h0.01M288.16 91.59h0.01M288.72 82.47h0.01M274.69 80.57h0.01M288.82 85.55h0.01M282.65 91.83h0.01M275.12 91.18h0.01M282.64 80.39h0.01M282.12 85.95h0.01M280.27 81.50h0.01M276.66 88.87h0.01M288.69 89.06h0.01M282.03 89.17h0.01M289.98 86.06h0.01M281.79 84.13h0.01M285.40 87.61h0.01M277.13 75.12h0.01M277.76 85.00h0.01M273.56 80.46h0.01M278.26 77.56h0.01M289.03 90.91h0.01M277.21 93.92h0.01M283.72 90.22h0.01M274.12 87.63h0.01M277.42 72.90h0.01M273.74 66.78h0.01M284.13 71.90h0.01M279.16 79.84h0.01M287.59 71.52h0.01M273.19 67.80h0.01M289.93 89.21h0.01M274.58 78.16h0.01M277.41 89.22h0.01M275.72 83.79h0.01M279.20 73.21h0.01M276.95 88.32h0.01M278.96 89.03h0.01M287.25 80.93h0.01M287.03 75.85h0.01M289.35 86.17h0.01M276.58 85.10h0.01M284.25 73.82h0.01M274.66 92.82h0.01M285.91 73.60h0.01M290.38 82.27h0.01M285.11 88.80h0.01M287.91 84.88h0.01M289.87 80.77h0.01M287.98 95.74h0.01M287.44 77.68h0.01M287.85 77.91h0.01M287.12 80.48h0.01M290.30 89.56h0.01M282.57 80.19h0.01M290.43 88.68h0.01M287.17 83.70h0.01M277.18 84.81h0.01M276.56 100.01h0.01M281.87 79.42h0.01M289.35 86.51h0.01M280.06 80.11h0.01M287.11 73.63h0.01M289.95 88.23h0.01M287.86 73.53h0.01M284.74 82.21h0.01M288.05 86.87h0.01M288.05 79.36h0.01M287.27 93.94h0.01M273.29 94.11h0.01M274.99 85.26h0.01M283.89 88.13h0.01M281.23 77.43h0.01M279.37 82.21h0.01M288.20 89.69h0.01M274.58 80.21h0.01M277.88 80.55h0.01M284.90 82.43h0.01M287.53 76.90h0.01M273.75 93.65h0.01M287.81 93.20h0.01M290.24 87.52h0.01M279.52 90.73h0.01M283.98 87.67h0.01M289.09 101.30h0.01M290.20 77.71h0.01M282.12 90.70h0.01M287.95 90.08h0.01M275.92 84.63h0.01M276.16 84.79h0.01M290.01 84.96h0.01" fill="none" stroke="#3390d0" stroke-width="1.25" stroke-linecap="round" opacity="0.9"/>
<line x1="312.50" y1="71.90" x2="312.50" y2="83.90" stroke="#c44a66" stroke-width="0.8"/>
<line x1="312.50" y1="93.80" x2="312.50" y2="110.80" stroke="#c44a66" stroke-width="0.8"/>
<rect x="303.00" y="83.90" width="18.60" height="9.90" fill="#f28a84" stroke="#d9454f" stroke-width="0.6"/>
<line x1="303.00" y1="89.00" x2="321.60" y2="89.00" stroke="#d9454f" stroke-width="0.9"/>
<path d="M307.81 75.78h0.01M309.64 92.65h0.01M318.82 96.28h0.01M312.55 94.35h0.01M319.39 76.58h0.01M315.29 100.45h0.01M311.29 97.85h0.01M320.54 93.57h0.01M314.67 81.81h0.01M310.07 97.00h0.01M319.63 77.74h0.01M312.27 87.42h0.01M304.33 75.44h0.01M318.33 103.71h0.01M311.36 85.08h0.01M316.82 80.17h0.01M316.80 97.92h0.01M303.93 81.27h0.01M320.45 87.13h0.01M319.35 92.44h0.01M313.68 94.83h0.01M304.14 96.47h0.01M314.85 79.22h0.01M308.36 96.40h0.01M313.10 89.46h0.01M310.87 82.74h0.01M317.79 99.21h0.01M315.48 87.50h0.01M316.07 74.79h0.01M315.74 101.48h0.01M313.65 88.23h0.01M318.17 93.17h0.01M305.82 90.78h0.01M312.59 82.27h0.01M316.59 92.04h0.01M306.37 85.87h0.01M308.66 88.05h0.01M310.19 91.18h0.01M306.67 106.83h0.01M308.87 85.01h0.01M309.08 93.43h0.01M311.19 87.26h0.01M310.39 93.29h0.01M310.24 92.48h0.01M306.97 94.47h0.01M319.66 87.65h0.01M314.77 75.28h0.01M317.32 93.17h0.01M316.93 87.28h0.01M311.76 92.76h0.01M316.85 78.48h0.01M308.26 84.93h0.01M312.83 78.00h0.01M308.49 101.08h0.01M317.18 84.99h0.01M304.04 84.72h0.01M309.67 93.26h0.01M320.22 80.33h0.01M304.56 88.45h0.01M313.17 94.29h0.01M310.73 89.25h0.01M317.84 77.61h0.01M314.91 93.67h0.01M320.71 92.92h0.01M317.24 81.26h0.01M310.40 80.34h0.01M309.45 99.92h0.01M310.37 84.44h0.01M306.64 91.27h0.01M318.99 82.41h0.01M315.35 80.00h0.01M319.53 87.18h0.01M304.49 93.33h0.01M310.74 93.82h0.01M315.32 74.21h0.01M306.00 118.00h0.01M311.00 116.00h0.01M313.00 119.00h0.01" fill="none" stroke="#bc1a34" stroke-width="1.25" stroke-linecap="round" opacity="0.9"/>
<line x1="336.50" y1="73.30" x2="336.50" y2="84.60" stroke="#78acd6" stroke-width="0.8"/>
<line x1="336.50" y1="93.80" x2="336.50" y2="117.80" stroke="#78acd6" stroke-width="0.8"/>
<rect x="327.30" y="84.60" width="18.60" height="9.20" fill="#a2d0f2" stroke="#6fb3e6" stroke-width="0.6"/>
<line x1="327.30" y1="89.00" x2="345.90" y2="89.00" stroke="#6fb3e6" stroke-width="0.9"/>
<path d="M338.00 88.83h0.01M332.53 81.99h0.01M342.81 94.29h0.01M330.32 92.25h0.01M339.69 76.90h0.01M343.77 89.22h0.01M343.78 81.31h0.01M339.28 88.47h0.01M343.42 76.90h0.01M340.27 96.54h0.01M338.62 97.16h0.01M338.46 88.62h0.01M342.44 91.63h0.01M331.63 88.35h0.01M329.29 93.88h0.01M342.04 81.06h0.01M328.90 82.56h0.01M342.69 97.52h0.01M338.93 88.75h0.01M330.10 89.53h0.01M335.62 88.64h0.01M337.59 91.46h0.01M342.49 89.71h0.01M329.59 87.26h0.01M333.72 90.60h0.01M333.56 98.91h0.01M341.88 84.84h0.01M331.36 87.09h0.01M337.27 95.90h0.01M328.15 78.95h0.01M336.68 89.30h0.01M335.23 87.46h0.01M340.64 98.26h0.01M338.13 92.88h0.01M338.20 82.67h0.01M331.67 94.01h0.01M342.08 104.84h0.01M345.35 95.18h0.01M328.88 87.60h0.01M335.77 85.54h0.01M339.89 89.53h0.01M333.75 87.14h0.01M331.02 82.06h0.01M331.10 84.64h0.01M340.85 92.33h0.01M331.16 82.02h0.01M340.27 88.29h0.01M337.68 90.84h0.01M340.22 94.29h0.01M344.67 100.65h0.01M344.16 87.17h0.01M328.73 87.21h0.01M331.30 78.75h0.01M340.60 103.17h0.01M338.94 90.16h0.01M330.55 88.47h0.01M338.98 95.65h0.01M328.40 95.08h0.01M330.75 88.70h0.01M342.08 80.41h0.01M335.79 101.03h0.01M330.37 91.71h0.01M341.59 91.03h0.01M344.01 92.91h0.01M342.39 91.25h0.01M329.91 81.87h0.01M336.74 96.11h0.01M331.37 94.79h0.01M343.96 88.98h0.01M340.38 90.47h0.01M335.46 107.82h0.01M340.78 82.83h0.01M342.74 80.09h0.01M330.01 97.66h0.01M338.14 93.93h0.01M334.42 89.40h0.01M341.75 102.39h0.01M335.95 89.77h0.01M337.22 103.39h0.01M328.88 93.01h0.01M343.54 84.94h0.01M336.32 97.93h0.01M331.98 86.16h0.01M343.90 85.60h0.01M338.24 86.74h0.01M336.00 124.50h0.01M341.00 124.50h0.01" fill="none" stroke="#3390d0" stroke-width="1.25" stroke-linecap="round" opacity="0.9"/>
<line x1="367.50" y1="57.20" x2="367.50" y2="77.70" stroke="#c44a66" stroke-width="0.8"/>
<line x1="367.50" y1="93.90" x2="367.50" y2="109.40" stroke="#c44a66" stroke-width="0.8"/>
<rect x="357.70" y="77.70" width="18.60" height="16.20" fill="#f28a84" stroke="#d9454f" stroke-width="0.6"/>
<line x1="357.70" y1="82.00" x2="376.30" y2="82.00" stroke="#d9454f" stroke-width="0.9"/>
<path d="M366.22 67.64h0.01M369.45 87.56h0.01M371.04 79.78h0.01M365.20 81.77h0.01M370.85 84.45h0.01M370.46 91.11h0.01M368.78 106.31h0.01M375.76 69.65h0.01M372.18 77.68h0.01M358.69 75.00h0.01M372.45 108.16h0.01M362.33 59.74h0.01M361.95 74.18h0.01M374.55 104.82h0.01M358.33 65.21h0.01M359.87 78.14h0.01M372.53 80.98h0.01M359.90 83.93h0.01M360.00 61.00h0.01M362.00 66.00h0.01M366.00 72.00h0.01M362.00 106.00h0.01M370.00 99.00h0.01" fill="none" stroke="#bc1a34" stroke-width="1.25" stroke-linecap="round" opacity="0.9"/>
<line x1="391.50" y1="43.70" x2="391.50" y2="68.50" stroke="#78acd6" stroke-width="0.8"/>
<line x1="391.50" y1="92.00" x2="391.50" y2="121.00" stroke="#78acd6" stroke-width="0.8"/>
<rect x="381.70" y="68.50" width="18.60" height="23.50" fill="#a2d0f2" stroke="#6fb3e6" stroke-width="0.6"/>
<line x1="381.70" y1="82.20" x2="400.30" y2="82.20" stroke="#6fb3e6" stroke-width="0.9"/>
<path d="M396.17 69.53h0.01M382.04 107.11h0.01M397.33 53.26h0.01M391.04 46.78h0.01M393.16 69.22h0.01M383.40 52.00h0.01M382.98 61.80h0.01M389.15 66.03h0.01M382.14 77.45h0.01M396.93 82.06h0.01M396.61 77.72h0.01M393.70 72.18h0.01M385.73 84.14h0.01M399.58 73.33h0.01M391.83 85.23h0.01M395.14 76.77h0.01M397.30 87.37h0.01M388.62 86.09h0.01M387.45 74.54h0.01M392.92 82.84h0.01M399.61 70.74h0.01M383.35 82.40h0.01M384.05 79.82h0.01M391.36 72.48h0.01M390.20 56.51h0.01M393.67 58.86h0.01M398.50 93.18h0.01M398.43 78.26h0.01M397.07 46.14h0.01M394.26 81.15h0.01M397.30 77.24h0.01M385.24 44.38h0.01M398.97 94.77h0.01M386.55 52.48h0.01M387.41 90.35h0.01M383.70 71.76h0.01M389.97 92.69h0.01M398.78 103.23h0.01M395.72 78.65h0.01M395.55 106.44h0.01M389.42 79.87h0.01M382.38 93.10h0.01M398.58 85.85h0.01M387.92 112.30h0.01M398.02 85.41h0.01M396.30 47.38h0.01M396.86 72.83h0.01M387.65 80.29h0.01M391.67 68.62h0.01M399.38 68.28h0.01M393.70 91.68h0.01M391.69 97.37h0.01M398.45 95.96h0.01M394.42 74.30h0.01M385.82 88.37h0.01M387.17 80.41h0.01M386.68 84.21h0.01M394.88 80.33h0.01M389.88 91.24h0.01M394.36 81.38h0.01M395.56 69.94h0.01M386.47 50.86h0.01M394.44 81.98h0.01M385.77 85.64h0.01M393.58 79.06h0.01M392.64 119.67h0.01M394.51 66.94h0.01M387.47 59.40h0.01M382.26 87.18h0.01M388.51 84.32h0.01M390.89 86.66h0.01M399.45 87.75h0.01M395.85 75.99h0.01M385.20 67.19h0.01M389.36 92.19h0.01M394.41 89.47h0.01M383.71 51.33h0.01M398.78 90.16h0.01M382.55 61.14h0.01M396.92 105.18h0.01M396.45 86.45h0.01M394.07 110.46h0.01M385.42 81.71h0.01M398.29 84.21h0.01M392.57 93.85h0.01M393.90 100.07h0.01M383.75 85.62h0.01M399.69 89.54h0.01M392.25 60.29h0.01M386.02 96.37h0.01M397.35 84.51h0.01M384.34 83.19h0.01M395.01 95.65h0.01M384.49 77.76h0.01M388.59 84.82h0.01" fill="none" stroke="#3390d0" stroke-width="1.25" stroke-linecap="round" opacity="0.9"/>
<line x1="421.50" y1="74.00" x2="421.50" y2="87.10" stroke="#c44a66" stroke-width="0.8"/>
<line x1="421.50" y1="106.50" x2="421.50" y2="127.00" stroke="#c44a66" stroke-width="0.8"/>
<rect x="412.00" y="87.10" width="18.60" height="19.40" fill="#f28a84" stroke="#d9454f" stroke-width="0.6"/>
<line x1="412.00" y1="98.50" x2="430.60" y2="98.50" stroke="#d9454f" stroke-width="0.9"/>
<path d="M421.71 85.99h0.01M426.63 105.36h0.01M417.44 104.28h0.01M416.33 77.43h0.01M415.79 112.25h0.01M418.88 100.76h0.01M423.85 109.97h0.01M413.21 102.72h0.01M416.53 81.88h0.01M414.39 111.03h0.01M420.58 100.84h0.01M414.42 96.70h0.01M420.93 91.21h0.01M420.22 102.46h0.01M414.43 106.13h0.01M420.75 108.73h0.01M429.16 103.15h0.01M416.30 92.37h0.01M425.70 96.30h0.01M429.62 85.35h0.01M429.29 102.10h0.01M421.75 92.14h0.01M427.86 98.97h0.01M416.12 105.75h0.01M428.93 106.58h0.01M420.60 103.15h0.01M420.45 97.72h0.01M418.02 91.89h0.01M418.80 103.35h0.01M414.45 115.32h0.01M415.54 112.04h0.01M412.50 96.58h0.01M412.74 86.86h0.01M420.77 81.83h0.01M416.51 97.24h0.01M421.28 77.54h0.01M414.91 79.10h0.01M426.77 83.46h0.01M427.73 116.86h0.01M418.92 89.19h0.01M416.38 104.66h0.01M423.06 92.35h0.01M416.21 102.50h0.01M412.95 94.45h0.01M415.75 89.87h0.01M425.78 100.94h0.01M419.54 78.48h0.01M429.37 97.34h0.01M416.50 96.07h0.01M429.37 78.46h0.01M421.16 100.54h0.01M416.19 115.02h0.01M427.31 97.29h0.01M420.52 112.43h0.01M418.09 102.99h0.01" fill="none" stroke="#bc1a34" stroke-width="1.25" stroke-linecap="round" opacity="0.9"/>
<line x1="445.50" y1="66.20" x2="445.50" y2="79.70" stroke="#78acd6" stroke-width="0.8"/>
<line x1="445.50" y1="91.00" x2="445.50" y2="116.40" stroke="#78acd6" stroke-width="0.8"/>
<rect x="436.00" y="79.70" width="18.60" height="11.30" fill="#a2d0f2" stroke="#6fb3e6" stroke-width="0.6"/>
<line x1="436.00" y1="85.30" x2="454.60" y2="85.30" stroke="#6fb3e6" stroke-width="0.9"/>
<path d="M443.63 106.62h0.01M436.71 78.48h0.01M443.03 95.78h0.01M436.30 93.63h0.01M447.24 98.81h0.01M446.41 84.85h0.01M449.11 94.59h0.01M438.47 89.37h0.01M453.58 90.07h0.01M445.70 88.02h0.01M446.77 89.00h0.01M440.52 87.49h0.01M439.32 83.44h0.01M443.66 77.47h0.01M452.29 80.63h0.01M453.52 76.62h0.01M441.14 71.29h0.01M437.23 93.39h0.01M452.77 82.27h0.01M441.51 86.56h0.01M441.50 86.27h0.01M443.86 102.03h0.01M445.83 81.83h0.01M448.06 94.22h0.01M445.53 73.04h0.01M448.15 90.00h0.01M446.85 89.53h0.01M453.62 91.01h0.01M439.77 68.42h0.01M446.57 101.33h0.01M439.57 93.60h0.01M440.56 83.03h0.01M442.89 79.33h0.01M437.62 72.94h0.01M449.64 83.43h0.01M448.40 78.63h0.01M450.69 78.69h0.01M448.50 94.89h0.01M449.06 85.88h0.01M453.55 82.16h0.01M450.44 81.11h0.01M453.54 86.26h0.01M440.03 94.22h0.01M452.50 67.45h0.01M440.48 96.97h0.01M448.24 84.57h0.01M450.10 77.49h0.01M440.17 89.47h0.01M441.09 89.61h0.01M443.61 89.76h0.01M443.87 86.32h0.01M453.26 95.17h0.01M446.69 90.55h0.01M444.17 77.31h0.01M439.46 95.70h0.01M448.47 83.74h0.01M439.20 85.48h0.01M450.10 70.75h0.01M451.34 101.12h0.01M448.99 77.90h0.01M453.69 76.12h0.01M441.72 90.07h0.01M440.90 98.91h0.01M451.59 90.28h0.01M452.05 75.16h0.01M436.57 80.61h0.01M445.93 82.37h0.01M437.56 84.29h0.01M436.39 78.75h0.01M436.37 91.35h0.01M440.44 96.86h0.01M454.07 84.06h0.01M436.65 98.57h0.01M453.76 100.18h0.01M438.98 98.29h0.01M442.06 80.14h0.01M443.81 94.14h0.01M437.29 78.93h0.01M437.81 86.17h0.01M447.53 87.24h0.01M448.84 88.46h0.01M449.42 84.10h0.01M442.45 100.23h0.01M453.02 79.94h0.01M446.39 85.58h0.01M448.77 89.94h0.01M443.23 86.85h0.01M450.65 84.07h0.01M450.74 79.43h0.01M439.74 94.62h0.01M449.04 91.57h0.01M440.46 90.28h0.01M437.98 71.43h0.01M438.79 79.75h0.01M439.77 76.13h0.01M447.71 81.85h0.01M440.64 83.33h0.01M445.90 84.83h0.01M449.34 94.16h0.01M440.28 98.62h0.01M441.53 87.92h0.01M447.36 77.17h0.01M452.53 75.50h0.01M448.23 87.35h0.01M440.99 92.31h0.01M450.18 88.63h0.01M451.19 90.36h0.01M450.60 80.89h0.01M449.28 82.65h0.01M437.30 92.15h0.01M437.18 82.52h0.01M445.55 83.03h0.01M452.09 96.69h0.01M444.61 101.24h0.01M445.42 86.68h0.01M445.68 89.34h0.01M445.83 76.71h0.01M450.26 95.49h0.01M443.27 87.83h0.01M445.00 87.29h0.01M440.29 85.10h0.01M442.03 97.87h0.01M450.17 72.32h0.01M442.99 87.23h0.01M453.11 67.31h0.01M447.44 91.65h0.01M447.76 92.67h0.01M441.31 91.01h0.01M452.67 108.48h0.01M438.62 90.85h0.01M441.70 74.02h0.01M437.53 87.80h0.01M444.17 85.36h0.01M437.84 71.04h0.01M453.64 82.40h0.01M437.22 87.62h0.01M438.73 81.94h0.01M438.22 99.34h0.01M445.87 89.87h0.01M451.30 87.47h0.01M450.07 87.84h0.01M443.96 89.86h0.01M440.67 83.06h0.01M453.79 88.99h0.01M449.63 90.16h0.01M452.35 89.70h0.01M453.52 93.19h0.01M447.17 79.98h0.01M449.19 83.06h0.01M449.51 94.48h0.01M453.55 89.11h0.01M438.23 89.34h0.01M440.76 88.28h0.01M440.89 78.33h0.01M438.97 90.26h0.01M439.41 89.85h0.01M449.71 79.51h0.01M443.83 82.39h0.01M451.09 89.87h0.01M436.49 92.51h0.01" fill="none" stroke="#3390d0" stroke-width="1.25" stroke-linecap="round" opacity="0.9"/>
<line x1="475.50" y1="64.10" x2="475.50" y2="81.00" stroke="#c44a66" stroke-width="0.8"/>
<line x1="475.50" y1="96.60" x2="475.50" y2="111.50" stroke="#c44a66" stroke-width="0.8"/>
<rect x="466.50" y="81.00" width="18.60" height="15.60" fill="#f28a84" stroke="#d9454f" stroke-width="0.6"/>
<line x1="466.50" y1="85.30" x2="485.10" y2="85.30" stroke="#d9454f" stroke-width="0.9"/>
<path d="M477.72 78.97h0.01M482.07 99.55h0.01M471.59 83.61h0.01M473.61 81.10h0.01M483.17 74.87h0.01M478.24 96.38h0.01M483.35 85.74h0.01M484.63 80.53h0.01M471.36 86.23h0.01M473.65 73.62h0.01M472.86 99.24h0.01M473.02 100.83h0.01M469.30 105.17h0.01M480.20 74.59h0.01M482.46 84.15h0.01M475.00 83.66h0.01M480.88 101.21h0.01M471.29 88.72h0.01M467.27 79.61h0.01M470.89 100.21h0.01M480.14 67.31h0.01M474.03 86.00h0.01" fill="none" stroke="#bc1a34" stroke-width="1.25" stroke-linecap="round" opacity="0.9"/>
<line x1="500.50" y1="63.40" x2="500.50" y2="83.20" stroke="#78acd6" stroke-width="0.8"/>
<line x1="500.50" y1="96.60" x2="500.50" y2="112.90" stroke="#78acd6" stroke-width="0.8"/>
<rect x="490.70" y="83.20" width="18.60" height="13.40" fill="#a2d0f2" stroke="#6fb3e6" stroke-width="0.6"/>
<line x1="490.70" y1="87.40" x2="509.30" y2="87.40" stroke="#6fb3e6" stroke-width="0.9"/>
<path d="M496.58 98.35h0.01M502.38 72.76h0.01M507.19 99.55h0.01M504.21 83.08h0.01M501.32 82.62h0.01M505.93 101.69h0.01M500.33 98.61h0.01M506.85 80.97h0.01M502.98 88.82h0.01M497.54 90.78h0.01M508.26 99.90h0.01M507.46 86.33h0.01M491.63 84.37h0.01M503.91 81.82h0.01M498.73 83.82h0.01M505.77 101.30h0.01M505.20 96.51h0.01M504.41 84.66h0.01M505.43 94.99h0.01M508.86 92.87h0.01M503.78 81.83h0.01M507.74 92.82h0.01M496.92 90.86h0.01M504.18 98.44h0.01M500.01 94.04h0.01M503.03 103.24h0.01M509.00 108.66h0.01M494.30 77.11h0.01M507.38 83.24h0.01M506.63 77.42h0.01M497.51 84.06h0.01M491.42 95.67h0.01M500.04 85.45h0.01M508.19 110.98h0.01M500.19 79.44h0.01M493.59 103.35h0.01M502.36 84.12h0.01M501.84 92.12h0.01M495.66 81.22h0.01M500.24 86.34h0.01M499.43 101.46h0.01M497.12 88.62h0.01M503.90 88.20h0.01M495.60 87.35h0.01M500.30 82.82h0.01M507.27 95.77h0.01M494.64 103.95h0.01M504.49 78.85h0.01M503.82 82.31h0.01M506.09 86.18h0.01M507.65 82.58h0.01M498.97 98.03h0.01M505.34 91.84h0.01M503.20 90.08h0.01M502.50 96.90h0.01M508.96 99.20h0.01M495.41 81.93h0.01M494.58 107.36h0.01M502.13 94.82h0.01M496.46 99.30h0.01M492.53 92.44h0.01M494.48 95.55h0.01M494.30 84.43h0.01M499.63 102.21h0.01M499.75 71.84h0.01M508.01 100.94h0.01M501.66 83.33h0.01M493.60 89.02h0.01M503.62 89.99h0.01M508.41 92.05h0.01M498.65 82.61h0.01M497.34 94.68h0.01M493.74 85.14h0.01M506.56 81.61h0.01M506.29 86.77h0.01M504.11 87.09h0.01M507.56 82.04h0.01M498.23 102.65h0.01M500.98 82.62h0.01M502.93 92.12h0.01M493.62 85.97h0.01M497.59 72.25h0.01M501.62 101.79h0.01M503.19 78.54h0.01M500.89 79.36h0.01M493.08 84.16h0.01M507.16 92.38h0.01M496.82 88.39h0.01M499.63 86.02h0.01M507.11 81.48h0.01M497.30 87.75h0.01M502.51 73.34h0.01M499.58 84.54h0.01M501.96 84.34h0.01M505.15 99.13h0.01M497.98 87.00h0.01M497.53 100.50h0.01M495.96 101.91h0.01M496.98 83.37h0.01M503.42 90.90h0.01M491.39 84.08h0.01M505.50 89.07h0.01M493.64 91.88h0.01M495.75 88.05h0.01M504.20 92.06h0.01M508.04 84.85h0.01M500.92 73.95h0.01M507.65 92.62h0.01M498.81 86.13h0.01M506.45 95.35h0.01M497.94 108.62h0.01M504.56 110.51h0.01M501.75 102.72h0.01M492.01 91.16h0.01M493.24 87.15h0.01M502.34 108.63h0.01M493.02 90.32h0.01M501.97 91.93h0.01M503.10 94.74h0.01M508.62 100.07h0.01M498.82 86.28h0.01M495.19 83.71h0.01M508.54 94.00h0.01M494.15 108.74h0.01M494.24 87.09h0.01M504.27 94.72h0.01M492.06 97.77h0.01M491.60 78.15h0.01M498.91 85.62h0.01M499.13 91.94h0.01M506.86 79.51h0.01M498.13 82.85h0.01M507.98 84.05h0.01M501.09 106.63h0.01M493.56 76.71h0.01M503.43 93.49h0.01M491.08 99.36h0.01M500.27 95.10h0.01M491.10 77.04h0.01M503.05 91.60h0.01M501.26 81.25h0.01M508.28 86.53h0.01M508.20 81.07h0.01M496.69 104.42h0.01M497.78 83.68h0.01M505.26 85.80h0.01M508.83 93.41h0.01M503.38 76.17h0.01M495.72 83.04h0.01M502.00 108.30h0.01M499.80 102.06h0.01M495.95 110.02h0.01M507.74 92.43h0.01M504.63 86.19h0.01M501.32 101.08h0.01M507.33 106.01h0.01M507.80 81.77h0.01M492.57 84.00h0.01M495.98 88.48h0.01M493.05 84.54h0.01M494.00 125.00h0.01M500.00 125.00h0.01" fill="none" stroke="#3390d0" stroke-width="1.25" stroke-linecap="round" opacity="0.9"/>
<ellipse cx="62.40" cy="67.80" rx="1.05" ry="1.2" fill="#2a2a2a"/>
<ellipse cx="65.30" cy="67.80" rx="1.05" ry="1.2" fill="#2a2a2a"/>
<ellipse cx="147.20" cy="62.90" rx="1.05" ry="1.2" fill="#2a2a2a"/>
<ellipse cx="150.10" cy="62.90" rx="1.05" ry="1.2" fill="#2a2a2a"/>
<ellipse cx="225.95" cy="35.60" rx="1.05" ry="1.2" fill="#2a2a2a"/>
<ellipse cx="228.85" cy="35.60" rx="1.05" ry="1.2" fill="#2a2a2a"/>
<ellipse cx="280.35" cy="58.80" rx="1.05" ry="1.2" fill="#2a2a2a"/>
<ellipse cx="283.25" cy="58.80" rx="1.05" ry="1.2" fill="#2a2a2a"/>
<ellipse cx="444.10" cy="57.50" rx="1.05" ry="1.2" fill="#2a2a2a"/>
<ellipse cx="447.00" cy="57.50" rx="1.05" ry="1.2" fill="#2a2a2a"/>
<text x="222.80" y="143.40" font-size="6.7" text-anchor="start" font-weight="normal" fill="#333">Group</text>
<rect x="248.30" y="138.40" width="7.80" height="5.40" fill="#f28a84" stroke="#d9454f" stroke-width="0.6"/>
<line x1="252.20" y1="136.40" x2="252.20" y2="145.60" stroke="#c44a66" stroke-width="0.7"/>
<circle cx="252.20" cy="141.10" r="0.9" fill="#bc1a34" stroke="none" stroke-width="0"/>
<text x="259.50" y="143.40" font-size="6.7" text-anchor="start" font-weight="normal" fill="#333">Normal</text>
<rect x="287.30" y="138.40" width="7.80" height="5.40" fill="#a2d0f2" stroke="#6fb3e6" stroke-width="0.6"/>
<line x1="291.20" y1="136.40" x2="291.20" y2="145.60" stroke="#78acd6" stroke-width="0.7"/>
<circle cx="291.20" cy="141.10" r="0.9" fill="#3390d0" stroke="none" stroke-width="0"/>
<text x="298.50" y="143.40" font-size="6.7" text-anchor="start" font-weight="normal" fill="#333">Tumor</text>
<line x1="46.70" y1="197.70" x2="46.70" y2="272.70" stroke="#333" stroke-width="1.1"/>
<line x1="46.70" y1="272.20" x2="317.80" y2="272.20" stroke="#333" stroke-width="1.1"/>
<line x1="43.90" y1="272.20" x2="46.70" y2="272.20" stroke="#333" stroke-width="0.9"/>
<text x="41.10" y="274.50" font-size="7.4" text-anchor="end" font-weight="normal" fill="#333">0</text>
<line x1="43.90" y1="248.40" x2="46.70" y2="248.40" stroke="#333" stroke-width="0.9"/>
<text x="41.10" y="250.70" font-size="7.4" text-anchor="end" font-weight="normal" fill="#333">20</text>
<line x1="43.90" y1="224.60" x2="46.70" y2="224.60" stroke="#333" stroke-width="0.9"/>
<text x="41.10" y="226.90" font-size="7.4" text-anchor="end" font-weight="normal" fill="#333">40</text>
<line x1="43.90" y1="200.80" x2="46.70" y2="200.80" stroke="#333" stroke-width="0.9"/>
<text x="41.10" y="203.10" font-size="7.4" text-anchor="end" font-weight="normal" fill="#333">60</text>
<text x="23.20" y="235.20" font-size="7.6" text-anchor="middle" font-weight="normal" fill="#333" transform="rotate(-90 23.20 235.20)">IC<tspan font-size="5.4" dy="2.4">50</tspan><tspan dy="-2.4"> (μM)</tspan></text>
<rect x="50.80" y="264.30" width="7.20" height="7.90" fill="#acd29a" stroke="none" stroke-width="0" opacity="0.9"/>
<circle cx="52.00" cy="265.10" r="1.45" fill="none" stroke="#389a36" stroke-width="0.75"/>
<circle cx="54.70" cy="266.50" r="1.45" fill="none" stroke="#389a36" stroke-width="0.75"/>
<circle cx="57.50" cy="266.50" r="1.45" fill="none" stroke="#389a36" stroke-width="0.75"/>
<circle cx="55.00" cy="269.00" r="1.45" fill="none" stroke="#389a36" stroke-width="0.75"/>
<circle cx="54.50" cy="252.90" r="1.45" fill="none" stroke="#389a36" stroke-width="0.75"/>
<line x1="54.40" y1="272.20" x2="54.40" y2="274.40" stroke="#333" stroke-width="0.8"/>
<text x="55.60" y="281.00" font-size="7.3" text-anchor="end" font-weight="normal" fill="#333" transform="rotate(-45 55.60 281.00)">Lymphoma</text>
<rect x="62.55" y="263.05" width="7.20" height="9.15" fill="#acd29a" stroke="none" stroke-width="0" opacity="0.9"/>
<circle cx="64.50" cy="259.40" r="1.45" fill="none" stroke="#389a36" stroke-width="0.75"/>
<circle cx="67.50" cy="258.50" r="1.45" fill="none" stroke="#389a36" stroke-width="0.75"/>
<circle cx="64.00" cy="266.00" r="1.45" fill="none" stroke="#389a36" stroke-width="0.75"/>
<circle cx="68.50" cy="262.50" r="1.45" fill="none" stroke="#389a36" stroke-width="0.75"/>
<circle cx="69.00" cy="265.50" r="1.45" fill="none" stroke="#389a36" stroke-width="0.75"/>
<circle cx="66.50" cy="266.50" r="1.45" fill="none" stroke="#389a36" stroke-width="0.75"/>
<line x1="66.15" y1="272.20" x2="66.15" y2="274.40" stroke="#333" stroke-width="0.8"/>
<text x="67.35" y="281.00" font-size="7.3" text-anchor="end" font-weight="normal" fill="#333" transform="rotate(-45 67.35 281.00)">Leukemia</text>
<rect x="74.30" y="249.35" width="7.20" height="22.85" fill="#acd29a" stroke="none" stroke-width="0" opacity="0.9"/>
<circle cx="78.10" cy="231.00" r="1.45" fill="none" stroke="#389a36" stroke-width="0.75"/>
<circle cx="78.00" cy="243.60" r="1.45" fill="none" stroke="#389a36" stroke-width="0.75"/>
<circle cx="75.50" cy="247.50" r="1.45" fill="none" stroke="#389a36" stroke-width="0.75"/>
<circle cx="78.50" cy="246.50" r="1.45" fill="none" stroke="#389a36" stroke-width="0.75"/>
<circle cx="80.50" cy="248.00" r="1.45" fill="none" stroke="#389a36" stroke-width="0.75"/>
<circle cx="77.50" cy="250.00" r="1.45" fill="none" stroke="#389a36" stroke-width="0.75"/>
<circle cx="80.50" cy="254.50" r="1.45" fill="none" stroke="#389a36" stroke-width="0.75"/>
<circle cx="78.00" cy="257.50" r="1.45" fill="none" stroke="#389a36" stroke-width="0.75"/>
<circle cx="78.00" cy="264.30" r="1.45" fill="none" stroke="#389a36" stroke-width="0.75"/>
<line x1="77.90" y1="272.20" x2="77.90" y2="274.40" stroke="#333" stroke-width="0.8"/>
<text x="79.10" y="281.00" font-size="7.3" text-anchor="end" font-weight="normal" fill="#333" transform="rotate(-45 79.10 281.00)">NSCLC</text>
<rect x="86.05" y="258.76" width="7.20" height="13.44" fill="#acd29a" stroke="none" stroke-width="0" opacity="0.9"/>
<circle cx="89.60" cy="253.00" r="1.45" fill="none" stroke="#389a36" stroke-width="0.75"/>
<circle cx="87.50" cy="259.00" r="1.45" fill="none" stroke="#389a36" stroke-width="0.75"/>
<circle cx="90.00" cy="257.50" r="1.45" fill="none" stroke="#389a36" stroke-width="0.75"/>
<circle cx="92.00" cy="260.00" r="1.45" fill="none" stroke="#389a36" stroke-width="0.75"/>
<circle cx="88.50" cy="265.00" r="1.45" fill="none" stroke="#389a36" stroke-width="0.75"/>
<circle cx="91.00" cy="264.50" r="1.45" fill="none" stroke="#389a36" stroke-width="0.75"/>
<circle cx="89.50" cy="262.00" r="1.45" fill="none" stroke="#389a36" stroke-width="0.75"/>
<line x1="89.65" y1="272.20" x2="89.65" y2="274.40" stroke="#333" stroke-width="0.8"/>
<text x="90.85" y="281.00" font-size="7.3" text-anchor="end" font-weight="normal" fill="#333" transform="rotate(-45 90.85 281.00)">Colon</text>
<rect x="97.80" y="256.96" width="7.20" height="15.24" fill="#acd29a" stroke="none" stroke-width="0" opacity="0.9"/>
<circle cx="99.10" cy="251.20" r="1.45" fill="none" stroke="#389a36" stroke-width="0.75"/>
<circle cx="104.20" cy="252.50" r="1.45" fill="none" stroke="#389a36" stroke-width="0.75"/>
<circle cx="101.40" cy="256.50" r="1.45" fill="none" stroke="#389a36" stroke-width="0.75"/>
<circle cx="101.40" cy="260.40" r="1.45" fill="none" stroke="#389a36" stroke-width="0.75"/>
<circle cx="101.40" cy="265.50" r="1.45" fill="none" stroke="#389a36" stroke-width="0.75"/>
<circle cx="102.50" cy="262.00" r="1.45" fill="none" stroke="#389a36" stroke-width="0.75"/>
<line x1="101.40" y1="272.20" x2="101.40" y2="274.40" stroke="#333" stroke-width="0.8"/>
<text x="102.60" y="281.00" font-size="7.3" text-anchor="end" font-weight="normal" fill="#333" transform="rotate(-45 102.60 281.00)">CNS</text>
<rect x="109.55" y="255.48" width="7.20" height="16.72" fill="#acd29a" stroke="none" stroke-width="0" opacity="0.9"/>
<circle cx="113.50" cy="249.30" r="1.45" fill="none" stroke="#389a36" stroke-width="0.75"/>
<circle cx="113.50" cy="253.80" r="1.45" fill="none" stroke="#389a36" stroke-width="0.75"/>
<circle cx="111.00" cy="259.60" r="1.45" fill="none" stroke="#389a36" stroke-width="0.75"/>
<circle cx="113.50" cy="258.00" r="1.45" fill="none" stroke="#389a36" stroke-width="0.75"/>
<circle cx="115.80" cy="257.50" r="1.45" fill="none" stroke="#389a36" stroke-width="0.75"/>
<circle cx="114.50" cy="260.60" r="1.45" fill="none" stroke="#389a36" stroke-width="0.75"/>
<circle cx="113.50" cy="264.50" r="1.45" fill="none" stroke="#389a36" stroke-width="0.75"/>
<circle cx="112.30" cy="262.00" r="1.45" fill="none" stroke="#389a36" stroke-width="0.75"/>
<circle cx="116.00" cy="262.00" r="1.45" fill="none" stroke="#389a36" stroke-width="0.75"/>
<line x1="113.15" y1="272.20" x2="113.15" y2="274.40" stroke="#333" stroke-width="0.8"/>
<text x="114.35" y="281.00" font-size="7.3" text-anchor="end" font-weight="normal" fill="#333" transform="rotate(-45 114.35 281.00)">Melanoma</text>
<rect x="121.30" y="251.85" width="7.20" height="20.35" fill="#acd29a" stroke="none" stroke-width="0" opacity="0.9"/>
<circle cx="125.00" cy="236.80" r="1.45" fill="none" stroke="#389a36" stroke-width="0.75"/>
<circle cx="125.00" cy="242.70" r="1.45" fill="none" stroke="#389a36" stroke-width="0.75"/>
<circle cx="122.50" cy="254.20" r="1.45" fill="none" stroke="#389a36" stroke-width="0.75"/>
<circle cx="125.50" cy="253.50" r="1.45" fill="none" stroke="#389a36" stroke-width="0.75"/>
<circle cx="127.30" cy="255.50" r="1.45" fill="none" stroke="#389a36" stroke-width="0.75"/>
<circle cx="124.50" cy="257.00" r="1.45" fill="none" stroke="#389a36" stroke-width="0.75"/>
<circle cx="125.50" cy="260.40" r="1.45" fill="none" stroke="#389a36" stroke-width="0.75"/>
<line x1="124.90" y1="272.20" x2="124.90" y2="274.40" stroke="#333" stroke-width="0.8"/>
<text x="126.10" y="281.00" font-size="7.3" text-anchor="end" font-weight="normal" fill="#333" transform="rotate(-45 126.10 281.00)">Ovarian</text>
<rect x="133.05" y="249.22" width="7.20" height="22.98" fill="#acd29a" stroke="none" stroke-width="0" opacity="0.9"/>
<circle cx="136.80" cy="222.20" r="1.45" fill="none" stroke="#389a36" stroke-width="0.75"/>
<circle cx="136.80" cy="229.60" r="1.45" fill="none" stroke="#389a36" stroke-width="0.75"/>
<circle cx="136.80" cy="247.30" r="1.45" fill="none" stroke="#389a36" stroke-width="0.75"/>
<circle cx="136.80" cy="251.80" r="1.45" fill="none" stroke="#389a36" stroke-width="0.75"/>
<circle cx="136.50" cy="255.50" r="1.45" fill="none" stroke="#389a36" stroke-width="0.75"/>
<circle cx="135.00" cy="260.60" r="1.45" fill="none" stroke="#389a36" stroke-width="0.75"/>
<circle cx="139.50" cy="261.50" r="1.45" fill="none" stroke="#389a36" stroke-width="0.75"/>
<circle cx="134.50" cy="264.00" r="1.45" fill="none" stroke="#389a36" stroke-width="0.75"/>
<line x1="136.65" y1="272.20" x2="136.65" y2="274.40" stroke="#333" stroke-width="0.8"/>
<text x="137.85" y="281.00" font-size="7.3" text-anchor="end" font-weight="normal" fill="#333" transform="rotate(-45 137.85 281.00)">Renal</text>
<rect x="144.80" y="250.99" width="7.20" height="21.21" fill="#acd29a" stroke="none" stroke-width="0" opacity="0.9"/>
<circle cx="148.60" cy="239.20" r="1.45" fill="none" stroke="#389a36" stroke-width="0.75"/>
<circle cx="148.60" cy="262.70" r="1.45" fill="none" stroke="#389a36" stroke-width="0.75"/>
<line x1="148.40" y1="272.20" x2="148.40" y2="274.40" stroke="#333" stroke-width="0.8"/>
<text x="149.60" y="281.00" font-size="7.3" text-anchor="end" font-weight="normal" fill="#333" transform="rotate(-45 149.60 281.00)">Prostate</text>
<rect x="156.55" y="258.07" width="7.20" height="14.13" fill="#acd29a" stroke="none" stroke-width="0" opacity="0.9"/>
<circle cx="158.20" cy="255.10" r="1.45" fill="none" stroke="#389a36" stroke-width="0.75"/>
<circle cx="163.20" cy="253.20" r="1.45" fill="none" stroke="#389a36" stroke-width="0.75"/>
<circle cx="157.50" cy="261.90" r="1.45" fill="none" stroke="#389a36" stroke-width="0.75"/>
<circle cx="160.50" cy="259.60" r="1.45" fill="none" stroke="#389a36" stroke-width="0.75"/>
<circle cx="163.20" cy="257.40" r="1.45" fill="none" stroke="#389a36" stroke-width="0.75"/>
<circle cx="162.70" cy="260.40" r="1.45" fill="none" stroke="#389a36" stroke-width="0.75"/>
<line x1="160.15" y1="272.20" x2="160.15" y2="274.40" stroke="#333" stroke-width="0.8"/>
<text x="161.35" y="281.00" font-size="7.3" text-anchor="end" font-weight="normal" fill="#333" transform="rotate(-45 161.35 281.00)">Breast</text>
<rect x="168.30" y="231.94" width="7.20" height="40.26" fill="#acd29a" stroke="none" stroke-width="0" opacity="0.9"/>
<circle cx="169.50" cy="234.20" r="1.45" fill="none" stroke="#389a36" stroke-width="0.75"/>
<circle cx="174.70" cy="233.40" r="1.45" fill="none" stroke="#389a36" stroke-width="0.75"/>
<circle cx="172.20" cy="242.40" r="1.45" fill="none" stroke="#389a36" stroke-width="0.75"/>
<circle cx="172.20" cy="247.30" r="1.45" fill="none" stroke="#389a36" stroke-width="0.75"/>
<circle cx="172.00" cy="201.20" r="1.45" fill="none" stroke="#389a36" stroke-width="0.75"/>
<line x1="171.90" y1="272.20" x2="171.90" y2="274.40" stroke="#333" stroke-width="0.8"/>
<text x="173.10" y="281.00" font-size="7.3" text-anchor="end" font-weight="normal" fill="#333" transform="rotate(-45 173.10 281.00)">Pancreatic</text>
<rect x="187.70" y="271.35" width="7.20" height="0.85" fill="#eea0b2" stroke="none" stroke-width="0"/>
<path d="M190.62 269.82L192.12 271.32L190.62 272.82L189.12 271.32Z" fill="#d42a58" stroke="#b4123c" stroke-width="0.8" fill-opacity="0.55"/>
<path d="M191.84 269.48L193.34 270.98L191.84 272.48L190.34 270.98Z" fill="#d42a58" stroke="#b4123c" stroke-width="0.8" fill-opacity="0.55"/>
<path d="M188.77 269.93L190.27 271.43L188.77 272.93L187.27 271.43Z" fill="#d42a58" stroke="#b4123c" stroke-width="0.8" fill-opacity="0.55"/>
<path d="M193.05 269.93L194.55 271.43L193.05 272.93L191.55 271.43Z" fill="#d42a58" stroke="#b4123c" stroke-width="0.8" fill-opacity="0.55"/>
<path d="M193.88 269.86L195.38 271.36L193.88 272.86L192.38 271.36Z" fill="#d42a58" stroke="#b4123c" stroke-width="0.8" fill-opacity="0.55"/>
<line x1="191.30" y1="272.20" x2="191.30" y2="274.40" stroke="#333" stroke-width="0.8"/>
<text x="192.50" y="281.00" font-size="7.3" text-anchor="end" font-weight="normal" fill="#333" transform="rotate(-45 192.50 281.00)">Lymphoma</text>
<rect x="199.45" y="271.13" width="7.20" height="1.07" fill="#eea0b2" stroke="none" stroke-width="0"/>
<path d="M202.90 269.36L204.40 270.86L202.90 272.36L201.40 270.86Z" fill="#d42a58" stroke="#b4123c" stroke-width="0.8" fill-opacity="0.55"/>
<path d="M203.77 269.42L205.27 270.92L203.77 272.42L202.27 270.92Z" fill="#d42a58" stroke="#b4123c" stroke-width="0.8" fill-opacity="0.55"/>
<path d="M201.23 270.00L202.73 271.50L201.23 273.00L199.73 271.50Z" fill="#d42a58" stroke="#b4123c" stroke-width="0.8" fill-opacity="0.55"/>
<path d="M203.17 270.13L204.67 271.63L203.17 273.13L201.67 271.63Z" fill="#d42a58" stroke="#b4123c" stroke-width="0.8" fill-opacity="0.55"/>
<path d="M204.30 270.20L205.80 271.70L204.30 273.20L202.80 271.70Z" fill="#d42a58" stroke="#b4123c" stroke-width="0.8" fill-opacity="0.55"/>
<path d="M204.39 269.70L205.89 271.20L204.39 272.70L202.89 271.20Z" fill="#d42a58" stroke="#b4123c" stroke-width="0.8" fill-opacity="0.55"/>
<line x1="203.05" y1="272.20" x2="203.05" y2="274.40" stroke="#333" stroke-width="0.8"/>
<text x="204.25" y="281.00" font-size="7.3" text-anchor="end" font-weight="normal" fill="#333" transform="rotate(-45 204.25 281.00)">Leukemia</text>
<rect x="211.20" y="269.06" width="7.20" height="3.14" fill="#eea0b2" stroke="none" stroke-width="0"/>
<path d="M215.27 265.23L216.77 266.73L215.27 268.23L213.77 266.73Z" fill="#d42a58" stroke="#b4123c" stroke-width="0.8" fill-opacity="0.55"/>
<path d="M216.70 267.65L218.20 269.15L216.70 270.65L215.20 269.15Z" fill="#d42a58" stroke="#b4123c" stroke-width="0.8" fill-opacity="0.55"/>
<path d="M214.66 267.30L216.16 268.80L214.66 270.30L213.16 268.80Z" fill="#d42a58" stroke="#b4123c" stroke-width="0.8" fill-opacity="0.55"/>
<path d="M215.91 268.00L217.41 269.50L215.91 271.00L214.41 269.50Z" fill="#d42a58" stroke="#b4123c" stroke-width="0.8" fill-opacity="0.55"/>
<path d="M216.99 269.78L218.49 271.28L216.99 272.78L215.49 271.28Z" fill="#d42a58" stroke="#b4123c" stroke-width="0.8" fill-opacity="0.55"/>
<path d="M214.51 269.12L216.01 270.62L214.51 272.12L213.01 270.62Z" fill="#d42a58" stroke="#b4123c" stroke-width="0.8" fill-opacity="0.55"/>
<path d="M217.07 266.35L218.57 267.85L217.07 269.35L215.57 267.85Z" fill="#d42a58" stroke="#b4123c" stroke-width="0.8" fill-opacity="0.55"/>
<path d="M212.91 267.20L214.41 268.70L212.91 270.20L211.41 268.70Z" fill="#d42a58" stroke="#b4123c" stroke-width="0.8" fill-opacity="0.55"/>
<path d="M213.33 267.91L214.83 269.41L213.33 270.91L211.83 269.41Z" fill="#d42a58" stroke="#b4123c" stroke-width="0.8" fill-opacity="0.55"/>
<line x1="214.80" y1="272.20" x2="214.80" y2="274.40" stroke="#333" stroke-width="0.8"/>
<text x="216.00" y="281.00" font-size="7.3" text-anchor="end" font-weight="normal" fill="#333" transform="rotate(-45 216.00 281.00)">NSCLC</text>
<rect x="222.95" y="270.53" width="7.20" height="1.67" fill="#eea0b2" stroke="none" stroke-width="0"/>
<path d="M227.21 268.42L228.71 269.92L227.21 271.42L225.71 269.92Z" fill="#d42a58" stroke="#b4123c" stroke-width="0.8" fill-opacity="0.55"/>
<path d="M225.52 269.17L227.02 270.67L225.52 272.17L224.02 270.67Z" fill="#d42a58" stroke="#b4123c" stroke-width="0.8" fill-opacity="0.55"/>
<path d="M225.77 269.61L227.27 271.11L225.77 272.61L224.27 271.11Z" fill="#d42a58" stroke="#b4123c" stroke-width="0.8" fill-opacity="0.55"/>
<path d="M226.99 269.06L228.49 270.56L226.99 272.06L225.49 270.56Z" fill="#d42a58" stroke="#b4123c" stroke-width="0.8" fill-opacity="0.55"/>
<path d="M227.50 270.12L229.00 271.62L227.50 273.12L226.00 271.62Z" fill="#d42a58" stroke="#b4123c" stroke-width="0.8" fill-opacity="0.55"/>
<path d="M228.78 269.67L230.28 271.17L228.78 272.67L227.28 271.17Z" fill="#d42a58" stroke="#b4123c" stroke-width="0.8" fill-opacity="0.55"/>
<path d="M227.44 267.92L228.94 269.42L227.44 270.92L225.94 269.42Z" fill="#d42a58" stroke="#b4123c" stroke-width="0.8" fill-opacity="0.55"/>
<line x1="226.55" y1="272.20" x2="226.55" y2="274.40" stroke="#333" stroke-width="0.8"/>
<text x="227.75" y="281.00" font-size="7.3" text-anchor="end" font-weight="normal" fill="#333" transform="rotate(-45 227.75 281.00)">Colon</text>
<rect x="234.70" y="270.34" width="7.20" height="1.86" fill="#eea0b2" stroke="none" stroke-width="0"/>
<path d="M236.55 270.28L238.05 271.78L236.55 273.28L235.05 271.78Z" fill="#d42a58" stroke="#b4123c" stroke-width="0.8" fill-opacity="0.55"/>
<path d="M240.40 267.76L241.90 269.26L240.40 270.76L238.90 269.26Z" fill="#d42a58" stroke="#b4123c" stroke-width="0.8" fill-opacity="0.55"/>
<path d="M238.66 270.13L240.16 271.63L238.66 273.13L237.16 271.63Z" fill="#d42a58" stroke="#b4123c" stroke-width="0.8" fill-opacity="0.55"/>
<path d="M240.02 268.94L241.52 270.44L240.02 271.94L238.52 270.44Z" fill="#d42a58" stroke="#b4123c" stroke-width="0.8" fill-opacity="0.55"/>
<path d="M238.68 269.28L240.18 270.78L238.68 272.28L237.18 270.78Z" fill="#d42a58" stroke="#b4123c" stroke-width="0.8" fill-opacity="0.55"/>
<path d="M240.14 268.89L241.64 270.39L240.14 271.89L238.64 270.39Z" fill="#d42a58" stroke="#b4123c" stroke-width="0.8" fill-opacity="0.55"/>
<line x1="238.30" y1="272.20" x2="238.30" y2="274.40" stroke="#333" stroke-width="0.8"/>
<text x="239.50" y="281.00" font-size="7.3" text-anchor="end" font-weight="normal" fill="#333" transform="rotate(-45 239.50 281.00)">CNS</text>
<rect x="246.45" y="270.24" width="7.20" height="1.96" fill="#eea0b2" stroke="none" stroke-width="0"/>
<path d="M252.60 268.50L254.10 270.00L252.60 271.50L251.10 270.00Z" fill="#d42a58" stroke="#b4123c" stroke-width="0.8" fill-opacity="0.55"/>
<path d="M249.58 267.70L251.08 269.20L249.58 270.70L248.08 269.20Z" fill="#d42a58" stroke="#b4123c" stroke-width="0.8" fill-opacity="0.55"/>
<path d="M248.23 268.09L249.73 269.59L248.23 271.09L246.73 269.59Z" fill="#d42a58" stroke="#b4123c" stroke-width="0.8" fill-opacity="0.55"/>
<path d="M251.99 269.06L253.49 270.56L251.99 272.06L250.49 270.56Z" fill="#d42a58" stroke="#b4123c" stroke-width="0.8" fill-opacity="0.55"/>
<path d="M247.68 267.61L249.18 269.11L247.68 270.61L246.18 269.11Z" fill="#d42a58" stroke="#b4123c" stroke-width="0.8" fill-opacity="0.55"/>
<path d="M251.19 268.90L252.69 270.40L251.19 271.90L249.69 270.40Z" fill="#d42a58" stroke="#b4123c" stroke-width="0.8" fill-opacity="0.55"/>
<path d="M249.17 268.88L250.67 270.38L249.17 271.88L247.67 270.38Z" fill="#d42a58" stroke="#b4123c" stroke-width="0.8" fill-opacity="0.55"/>
<path d="M250.08 267.33L251.58 268.83L250.08 270.33L248.58 268.83Z" fill="#d42a58" stroke="#b4123c" stroke-width="0.8" fill-opacity="0.55"/>
<path d="M252.64 270.05L254.14 271.55L252.64 273.05L251.14 271.55Z" fill="#d42a58" stroke="#b4123c" stroke-width="0.8" fill-opacity="0.55"/>
<line x1="250.05" y1="272.20" x2="250.05" y2="274.40" stroke="#333" stroke-width="0.8"/>
<text x="251.25" y="281.00" font-size="7.3" text-anchor="end" font-weight="normal" fill="#333" transform="rotate(-45 251.25 281.00)">Melanoma</text>
<rect x="258.20" y="269.51" width="7.20" height="2.69" fill="#eea0b2" stroke="none" stroke-width="0"/>
<path d="M262.32 268.15L263.82 269.65L262.32 271.15L260.82 269.65Z" fill="#d42a58" stroke="#b4123c" stroke-width="0.8" fill-opacity="0.55"/>
<path d="M259.36 267.66L260.86 269.16L259.36 270.66L257.86 269.16Z" fill="#d42a58" stroke="#b4123c" stroke-width="0.8" fill-opacity="0.55"/>
<path d="M262.37 267.70L263.87 269.20L262.37 270.70L260.87 269.20Z" fill="#d42a58" stroke="#b4123c" stroke-width="0.8" fill-opacity="0.55"/>
<path d="M260.01 267.10L261.51 268.60L260.01 270.10L258.51 268.60Z" fill="#d42a58" stroke="#b4123c" stroke-width="0.8" fill-opacity="0.55"/>
<path d="M260.83 266.18L262.33 267.68L260.83 269.18L259.33 267.68Z" fill="#d42a58" stroke="#b4123c" stroke-width="0.8" fill-opacity="0.55"/>
<path d="M264.19 267.51L265.69 269.01L264.19 270.51L262.69 269.01Z" fill="#d42a58" stroke="#b4123c" stroke-width="0.8" fill-opacity="0.55"/>
<path d="M261.59 267.28L263.09 268.78L261.59 270.28L260.09 268.78Z" fill="#d42a58" stroke="#b4123c" stroke-width="0.8" fill-opacity="0.55"/>
<line x1="261.80" y1="272.20" x2="261.80" y2="274.40" stroke="#333" stroke-width="0.8"/>
<text x="263.00" y="281.00" font-size="7.3" text-anchor="end" font-weight="normal" fill="#333" transform="rotate(-45 263.00 281.00)">Ovarian</text>
<rect x="269.95" y="269.56" width="7.20" height="2.64" fill="#eea0b2" stroke="none" stroke-width="0"/>
<path d="M273.65 262.96L275.15 264.46L273.65 265.96L272.15 264.46Z" fill="#d42a58" stroke="#b4123c" stroke-width="0.8" fill-opacity="0.55"/>
<path d="M273.86 268.83L275.36 270.33L273.86 271.83L272.36 270.33Z" fill="#d42a58" stroke="#b4123c" stroke-width="0.8" fill-opacity="0.55"/>
<path d="M274.17 269.04L275.67 270.54L274.17 272.04L272.67 270.54Z" fill="#d42a58" stroke="#b4123c" stroke-width="0.8" fill-opacity="0.55"/>
<path d="M273.19 267.04L274.69 268.54L273.19 270.04L271.69 268.54Z" fill="#d42a58" stroke="#b4123c" stroke-width="0.8" fill-opacity="0.55"/>
<path d="M274.70 268.46L276.20 269.96L274.70 271.46L273.20 269.96Z" fill="#d42a58" stroke="#b4123c" stroke-width="0.8" fill-opacity="0.55"/>
<path d="M276.03 268.00L277.53 269.50L276.03 271.00L274.53 269.50Z" fill="#d42a58" stroke="#b4123c" stroke-width="0.8" fill-opacity="0.55"/>
<path d="M273.66 267.28L275.16 268.78L273.66 270.28L272.16 268.78Z" fill="#d42a58" stroke="#b4123c" stroke-width="0.8" fill-opacity="0.55"/>
<path d="M273.11 268.19L274.61 269.69L273.11 271.19L271.61 269.69Z" fill="#d42a58" stroke="#b4123c" stroke-width="0.8" fill-opacity="0.55"/>
<line x1="273.55" y1="272.20" x2="273.55" y2="274.40" stroke="#333" stroke-width="0.8"/>
<text x="274.75" y="281.00" font-size="7.3" text-anchor="end" font-weight="normal" fill="#333" transform="rotate(-45 274.75 281.00)">Renal</text>
<rect x="281.70" y="269.40" width="7.20" height="2.80" fill="#eea0b2" stroke="none" stroke-width="0"/>
<path d="M285.72 267.94L287.22 269.44L285.72 270.94L284.22 269.44Z" fill="#d42a58" stroke="#b4123c" stroke-width="0.8" fill-opacity="0.55"/>
<path d="M285.99 266.55L287.49 268.05L285.99 269.55L284.49 268.05Z" fill="#d42a58" stroke="#b4123c" stroke-width="0.8" fill-opacity="0.55"/>
<line x1="285.30" y1="272.20" x2="285.30" y2="274.40" stroke="#333" stroke-width="0.8"/>
<text x="286.50" y="281.00" font-size="7.3" text-anchor="end" font-weight="normal" fill="#333" transform="rotate(-45 286.50 281.00)">Prostate</text>
<rect x="293.45" y="270.43" width="7.20" height="1.77" fill="#eea0b2" stroke="none" stroke-width="0"/>
<path d="M294.76 268.82L296.26 270.32L294.76 271.82L293.26 270.32Z" fill="#d42a58" stroke="#b4123c" stroke-width="0.8" fill-opacity="0.55"/>
<path d="M297.98 269.41L299.48 270.91L297.98 272.41L296.48 270.91Z" fill="#d42a58" stroke="#b4123c" stroke-width="0.8" fill-opacity="0.55"/>
<path d="M296.28 269.43L297.78 270.93L296.28 272.43L294.78 270.93Z" fill="#d42a58" stroke="#b4123c" stroke-width="0.8" fill-opacity="0.55"/>
<path d="M294.57 269.20L296.07 270.70L294.57 272.20L293.07 270.70Z" fill="#d42a58" stroke="#b4123c" stroke-width="0.8" fill-opacity="0.55"/>
<path d="M294.76 269.91L296.26 271.41L294.76 272.91L293.26 271.41Z" fill="#d42a58" stroke="#b4123c" stroke-width="0.8" fill-opacity="0.55"/>
<path d="M295.76 269.64L297.26 271.14L295.76 272.64L294.26 271.14Z" fill="#d42a58" stroke="#b4123c" stroke-width="0.8" fill-opacity="0.55"/>
<line x1="297.05" y1="272.20" x2="297.05" y2="274.40" stroke="#333" stroke-width="0.8"/>
<text x="298.25" y="281.00" font-size="7.3" text-anchor="end" font-weight="normal" fill="#333" transform="rotate(-45 298.25 281.00)">Breast</text>
<rect x="305.20" y="269.40" width="7.20" height="2.80" fill="#eea0b2" stroke="none" stroke-width="0"/>
<path d="M308.57 264.15L310.07 265.65L308.57 267.15L307.07 265.65Z" fill="#d42a58" stroke="#b4123c" stroke-width="0.8" fill-opacity="0.55"/>
<path d="M308.09 268.62L309.59 270.12L308.09 271.62L306.59 270.12Z" fill="#d42a58" stroke="#b4123c" stroke-width="0.8" fill-opacity="0.55"/>
<path d="M307.83 268.38L309.33 269.88L307.83 271.38L306.33 269.88Z" fill="#d42a58" stroke="#b4123c" stroke-width="0.8" fill-opacity="0.55"/>
<path d="M307.76 268.80L309.26 270.30L307.76 271.80L306.26 270.30Z" fill="#d42a58" stroke="#b4123c" stroke-width="0.8" fill-opacity="0.55"/>
<path d="M308.16 266.94L309.66 268.44L308.16 269.94L306.66 268.44Z" fill="#d42a58" stroke="#b4123c" stroke-width="0.8" fill-opacity="0.55"/>
<path d="M309.16 267.87L310.66 269.37L309.16 270.87L307.66 269.37Z" fill="#d42a58" stroke="#b4123c" stroke-width="0.8" fill-opacity="0.55"/>
<line x1="308.80" y1="272.20" x2="308.80" y2="274.40" stroke="#333" stroke-width="0.8"/>
<text x="310.00" y="281.00" font-size="7.3" text-anchor="end" font-weight="normal" fill="#333" transform="rotate(-45 310.00 281.00)">Pancreatic</text>
<circle cx="283.00" cy="201.00" r="1.45" fill="none" stroke="#389a36" stroke-width="0.75"/>
<text x="287.70" y="203.60" font-size="7.3" text-anchor="start" font-weight="normal" fill="#333">BBM</text>
<path d="M283 210.4L284.6 212L283 213.6L281.4 212Z" fill="none" stroke="#a02848" stroke-width="0.8"/>
<text x="287.70" y="214.60" font-size="7.3" text-anchor="start" font-weight="normal" fill="#333">PA4</text>
<line x1="346.80" y1="175.70" x2="510.00" y2="175.70" stroke="#333" stroke-width="1.0"/>
<line x1="346.80" y1="201.20" x2="510.00" y2="201.20" stroke="#333" stroke-width="1.0"/>
<line x1="346.80" y1="325.40" x2="510.00" y2="325.40" stroke="#333" stroke-width="1.0"/>
<text x="365.30" y="186.00" font-size="7.3" text-anchor="middle" font-weight="normal" fill="#333">Cancer</text>
<text x="365.30" y="195.00" font-size="7.3" text-anchor="middle" font-weight="normal" fill="#333">Type</text>
<text x="408.70" y="190.50" font-size="7.3" text-anchor="middle" font-weight="normal" fill="#333"># of Cell Lines</text>
<text x="472.00" y="185.60" font-size="7.3" text-anchor="middle" font-weight="normal" fill="#333">Avg IC50 (μM)</text>
<text x="452.60" y="196.60" font-size="7.3" text-anchor="middle" font-weight="normal" fill="#333">BBM</text>
<text x="492.80" y="196.60" font-size="7.3" text-anchor="middle" font-weight="normal" fill="#333">PA4</text>
<text x="365.30" y="211.00" font-size="7.3" text-anchor="middle" font-weight="normal" fill="#333">Lymphoma</text>
<text x="408.20" y="211.00" font-size="7.3" text-anchor="middle" font-weight="normal" fill="#333">5</text>
<text x="453.10" y="211.00" font-size="7.3" text-anchor="middle" font-weight="normal" fill="#333">6.635</text>
<text x="493.30" y="211.00" font-size="7.3" text-anchor="middle" font-weight="normal" fill="#333">0.713</text>
<text x="365.30" y="222.12" font-size="7.3" text-anchor="middle" font-weight="normal" fill="#333">Leukemia</text>
<text x="408.20" y="222.12" font-size="7.3" text-anchor="middle" font-weight="normal" fill="#333">6</text>
<text x="453.10" y="222.12" font-size="7.3" text-anchor="middle" font-weight="normal" fill="#333">7.685</text>
<text x="493.30" y="222.12" font-size="7.3" text-anchor="middle" font-weight="normal" fill="#333">0.895</text>
<text x="365.30" y="233.24" font-size="7.3" text-anchor="middle" font-weight="normal" fill="#333">NSCLC</text>
<text x="408.20" y="233.24" font-size="7.3" text-anchor="middle" font-weight="normal" fill="#333">9</text>
<text x="453.10" y="233.24" font-size="7.3" text-anchor="middle" font-weight="normal" fill="#333">19.2</text>
<text x="493.30" y="233.24" font-size="7.3" text-anchor="middle" font-weight="normal" fill="#333">2.637</text>
<text x="365.30" y="244.36" font-size="7.3" text-anchor="middle" font-weight="normal" fill="#333">Colon</text>
<text x="408.20" y="244.36" font-size="7.3" text-anchor="middle" font-weight="normal" fill="#333">7</text>
<text x="453.10" y="244.36" font-size="7.3" text-anchor="middle" font-weight="normal" fill="#333">11.29</text>
<text x="493.30" y="244.36" font-size="7.3" text-anchor="middle" font-weight="normal" fill="#333">1.403</text>
<text x="365.30" y="255.48" font-size="7.3" text-anchor="middle" font-weight="normal" fill="#333">CNS</text>
<text x="408.20" y="255.48" font-size="7.3" text-anchor="middle" font-weight="normal" fill="#333">6</text>
<text x="453.10" y="255.48" font-size="7.3" text-anchor="middle" font-weight="normal" fill="#333">12.81</text>
<text x="493.30" y="255.48" font-size="7.3" text-anchor="middle" font-weight="normal" fill="#333">1.565</text>
<text x="365.30" y="266.60" font-size="7.3" text-anchor="middle" font-weight="normal" fill="#333">Melanoma</text>
<text x="408.20" y="266.60" font-size="7.3" text-anchor="middle" font-weight="normal" fill="#333">9</text>
<text x="453.10" y="266.60" font-size="7.3" text-anchor="middle" font-weight="normal" fill="#333">14.05</text>
<text x="493.30" y="266.60" font-size="7.3" text-anchor="middle" font-weight="normal" fill="#333">1.645</text>
<text x="365.30" y="277.72" font-size="7.3" text-anchor="middle" font-weight="normal" fill="#333">Ovarian</text>
<text x="408.20" y="277.72" font-size="7.3" text-anchor="middle" font-weight="normal" fill="#333">7</text>
<text x="453.10" y="277.72" font-size="7.3" text-anchor="middle" font-weight="normal" fill="#333">17.1</text>
<text x="493.30" y="277.72" font-size="7.3" text-anchor="middle" font-weight="normal" fill="#333">2.26</text>
<text x="365.30" y="288.84" font-size="7.3" text-anchor="middle" font-weight="normal" fill="#333">Renal</text>
<text x="408.20" y="288.84" font-size="7.3" text-anchor="middle" font-weight="normal" fill="#333">8</text>
<text x="453.10" y="288.84" font-size="7.3" text-anchor="middle" font-weight="normal" fill="#333">19.315</text>
<text x="493.30" y="288.84" font-size="7.3" text-anchor="middle" font-weight="normal" fill="#333">2.218</text>
<text x="365.30" y="299.96" font-size="7.3" text-anchor="middle" font-weight="normal" fill="#333">Prostate</text>
<text x="408.20" y="299.96" font-size="7.3" text-anchor="middle" font-weight="normal" fill="#333">2</text>
<text x="453.10" y="299.96" font-size="7.3" text-anchor="middle" font-weight="normal" fill="#333">17.824</text>
<text x="493.30" y="299.96" font-size="7.3" text-anchor="middle" font-weight="normal" fill="#333">2.356</text>
<text x="365.30" y="311.08" font-size="7.3" text-anchor="middle" font-weight="normal" fill="#333">Breast</text>
<text x="408.20" y="311.08" font-size="7.3" text-anchor="middle" font-weight="normal" fill="#333">6</text>
<text x="453.10" y="311.08" font-size="7.3" text-anchor="middle" font-weight="normal" fill="#333">11.875</text>
<text x="493.30" y="311.08" font-size="7.3" text-anchor="middle" font-weight="normal" fill="#333">1.488</text>
<text x="365.30" y="322.20" font-size="7.3" text-anchor="middle" font-weight="normal" fill="#333">Pancreatic</text>
<text x="408.20" y="322.20" font-size="7.3" text-anchor="middle" font-weight="normal" fill="#333">6</text>
<text x="453.10" y="322.20" font-size="7.3" text-anchor="middle" font-weight="normal" fill="#333">33.83</text>
<text x="493.30" y="322.20" font-size="7.3" text-anchor="middle" font-weight="normal" fill="#333">2.349</text>
<line x1="63.30" y1="377.50" x2="63.30" y2="456.70" stroke="#333" stroke-width="1.1"/>
<line x1="63.30" y1="456.20" x2="180.50" y2="456.20" stroke="#333" stroke-width="1.1"/>
<line x1="60.50" y1="456.20" x2="63.30" y2="456.20" stroke="#333" stroke-width="0.9"/>
<text x="57.20" y="458.50" font-size="7.6" text-anchor="end" font-weight="normal" fill="#333">0</text>
<line x1="60.50" y1="430.80" x2="63.30" y2="430.80" stroke="#333" stroke-width="0.9"/>
<text x="57.20" y="433.10" font-size="7.6" text-anchor="end" font-weight="normal" fill="#333">500000</text>
<line x1="60.50" y1="405.40" x2="63.30" y2="405.40" stroke="#333" stroke-width="0.9"/>
<text x="57.20" y="407.70" font-size="7.6" text-anchor="end" font-weight="normal" fill="#333">1000000</text>
<line x1="60.50" y1="380.00" x2="63.30" y2="380.00" stroke="#333" stroke-width="0.9"/>
<text x="57.20" y="382.30" font-size="7.6" text-anchor="end" font-weight="normal" fill="#333">1500000</text>
<line x1="63.25" y1="456.20" x2="63.25" y2="458.80" stroke="#333" stroke-width="0.9"/>
<text x="63.25" y="468.10" font-size="7.6" text-anchor="middle" font-weight="normal" fill="#333">0.01</text>
<line x1="92.00" y1="456.20" x2="92.00" y2="458.80" stroke="#333" stroke-width="0.9"/>
<text x="92.00" y="468.10" font-size="7.6" text-anchor="middle" font-weight="normal" fill="#333">0.1</text>
<line x1="120.75" y1="456.20" x2="120.75" y2="458.80" stroke="#333" stroke-width="0.9"/>
<text x="120.75" y="468.10" font-size="7.6" text-anchor="middle" font-weight="normal" fill="#333">1</text>
<line x1="149.50" y1="456.20" x2="149.50" y2="458.80" stroke="#333" stroke-width="0.9"/>
<text x="149.50" y="468.10" font-size="7.6" text-anchor="middle" font-weight="normal" fill="#333">10</text>
<line x1="178.25" y1="456.20" x2="178.25" y2="458.80" stroke="#333" stroke-width="0.9"/>
<text x="178.25" y="468.10" font-size="7.6" text-anchor="middle" font-weight="normal" fill="#333">100</text>
<text x="21.60" y="416.90" font-size="7.9" text-anchor="middle" font-weight="normal" fill="#333" transform="rotate(-90 21.60 416.90)" textLength="39.7" lengthAdjust="spacingAndGlyphs" style="stroke-width:0.3px">Viability (RLU)</text>
<text x="122.30" y="480.70" font-size="7.2" text-anchor="middle" font-weight="normal" fill="#333" textLength="36" lengthAdjust="spacingAndGlyphs" style="stroke-width:0.3px">PA4 (log<tspan font-size="5" dy="1.5">10</tspan><tspan dy="-1.5">μM)</tspan></text>
<line x1="75.90" y1="382.20" x2="75.90" y2="388.20" stroke="#f0a94a" stroke-width="0.7"/>
<line x1="74.70" y1="382.20" x2="77.10" y2="382.20" stroke="#f0a94a" stroke-width="0.7"/>
<line x1="74.70" y1="388.20" x2="77.10" y2="388.20" stroke="#f0a94a" stroke-width="0.7"/>
<line x1="89.80" y1="383.20" x2="89.80" y2="392.20" stroke="#f0a94a" stroke-width="0.7"/>
<line x1="88.60" y1="383.20" x2="91.00" y2="383.20" stroke="#f0a94a" stroke-width="0.7"/>
<line x1="88.60" y1="392.20" x2="91.00" y2="392.20" stroke="#f0a94a" stroke-width="0.7"/>
<line x1="103.20" y1="387.00" x2="103.20" y2="396.00" stroke="#f0a94a" stroke-width="0.7"/>
<line x1="102.00" y1="387.00" x2="104.40" y2="387.00" stroke="#f0a94a" stroke-width="0.7"/>
<line x1="102.00" y1="396.00" x2="104.40" y2="396.00" stroke="#f0a94a" stroke-width="0.7"/>
<line x1="117.10" y1="414.00" x2="117.10" y2="420.00" stroke="#f0a94a" stroke-width="0.7"/>
<line x1="115.90" y1="414.00" x2="118.30" y2="414.00" stroke="#f0a94a" stroke-width="0.7"/>
<line x1="115.90" y1="420.00" x2="118.30" y2="420.00" stroke="#f0a94a" stroke-width="0.7"/>
<line x1="75.90" y1="398.40" x2="75.90" y2="403.40" stroke="#48b2d8" stroke-width="0.7"/>
<line x1="74.70" y1="398.40" x2="77.10" y2="398.40" stroke="#48b2d8" stroke-width="0.7"/>
<line x1="74.70" y1="403.40" x2="77.10" y2="403.40" stroke="#48b2d8" stroke-width="0.7"/>
<line x1="89.80" y1="395.80" x2="89.80" y2="401.80" stroke="#48b2d8" stroke-width="0.7"/>
<line x1="88.60" y1="395.80" x2="91.00" y2="395.80" stroke="#48b2d8" stroke-width="0.7"/>
<line x1="88.60" y1="401.80" x2="91.00" y2="401.80" stroke="#48b2d8" stroke-width="0.7"/>
<line x1="103.20" y1="402.80" x2="103.20" y2="407.80" stroke="#48b2d8" stroke-width="0.7"/>
<line x1="102.00" y1="402.80" x2="104.40" y2="402.80" stroke="#48b2d8" stroke-width="0.7"/>
<line x1="102.00" y1="407.80" x2="104.40" y2="407.80" stroke="#48b2d8" stroke-width="0.7"/>
<line x1="130.80" y1="436.10" x2="130.80" y2="449.10" stroke="#e45596" stroke-width="0.7"/>
<line x1="129.60" y1="436.10" x2="132.00" y2="436.10" stroke="#e45596" stroke-width="0.7"/>
<line x1="129.60" y1="449.10" x2="132.00" y2="449.10" stroke="#e45596" stroke-width="0.7"/>
<path d="M75.90 385.20 L89.80 387.70 L103.20 391.60 L117.10 417.00 L130.80 455.50 L144.50 456.00 L157.80 456.00" fill="none" stroke="#eea44a" stroke-width="0.8"/>
<path d="M75.90 400.90 L89.80 398.80 L103.20 405.50 L117.10 421.50 L130.80 455.00 L144.50 456.00 L157.80 456.00" fill="none" stroke="#3aa6c8" stroke-width="0.8"/>
<path d="M75.90 405.50 L89.80 405.50 L103.20 409.70 L117.10 426.50 L130.80 455.00 L144.50 456.00 L157.80 456.00" fill="none" stroke="#3a8a6e" stroke-width="0.8"/>
<path d="M75.90 410.60 L89.80 410.60 L103.20 411.90 L117.10 411.00 L130.80 442.60 L144.50 456.00 L157.80 456.00" fill="none" stroke="#e0408a" stroke-width="0.8"/>
<path d="M75.90 421.60 L89.80 420.80 L103.20 421.60 L117.10 432.00 L130.80 455.50 L144.50 456.00 L157.80 456.00" fill="none" stroke="#c0307a" stroke-width="0.8"/>
<path d="M75.90 434.00 L89.80 434.00 L103.20 435.00 L117.10 437.00 L130.80 455.00 L144.50 456.00 L157.80 456.00" fill="none" stroke="#3b4f8a" stroke-width="0.8"/>
<path d="M75.90 433.20 L89.80 433.20 L103.20 434.50 L117.10 436.60 L130.80 455.00 L144.50 456.00 L157.80 456.00" fill="none" stroke="#7ab6d8" stroke-width="0.8"/>
<path d="M75.90 436.20 L89.80 436.20 L103.20 435.90 L117.10 439.00 L130.80 455.00 L144.50 456.00 L157.80 456.00" fill="none" stroke="#f0b040" stroke-width="0.8"/>
<path d="M75.90 442.50 L89.80 442.50 L103.20 443.30 L117.10 445.40 L130.80 455.50 L144.50 456.00 L157.80 456.00" fill="none" stroke="#a060c0" stroke-width="0.8"/>
<path d="M75.90 448.40 L89.80 448.40 L103.20 448.80 L117.10 449.80 L130.80 455.50 L144.50 456.00 L157.80 456.00" fill="none" stroke="#3aa08a" stroke-width="0.8"/>
<path d="M74.36 449.52L77.44 449.52L75.90 446.86Z" fill="#1a5e3a" stroke="none" stroke-width="0"/>
<path d="M88.26 449.52L91.34 449.52L89.80 446.86Z" fill="#1a5e3a" stroke="none" stroke-width="0"/>
<path d="M101.66 449.92L104.74 449.92L103.20 447.26Z" fill="#1a5e3a" stroke="none" stroke-width="0"/>
<path d="M115.56 450.92L118.64 450.92L117.10 448.26Z" fill="#1a5e3a" stroke="none" stroke-width="0"/>
<path d="M129.26 456.62L132.34 456.62L130.80 453.96Z" fill="#1a5e3a" stroke="none" stroke-width="0"/>
<path d="M142.96 457.12L146.04 457.12L144.50 454.46Z" fill="#1a5e3a" stroke="none" stroke-width="0"/>
<path d="M156.26 457.12L159.34 457.12L157.80 454.46Z" fill="#1a5e3a" stroke="none" stroke-width="0"/>
<circle cx="75.90" cy="442.50" r="1.4" fill="#34205e" stroke="none" stroke-width="0"/>
<circle cx="89.80" cy="442.50" r="1.4" fill="#34205e" stroke="none" stroke-width="0"/>
<circle cx="103.20" cy="443.30" r="1.4" fill="#34205e" stroke="none" stroke-width="0"/>
<circle cx="117.10" cy="445.40" r="1.4" fill="#34205e" stroke="none" stroke-width="0"/>
<circle cx="130.80" cy="455.50" r="1.4" fill="#34205e" stroke="none" stroke-width="0"/>
<circle cx="144.50" cy="456.00" r="1.4" fill="#34205e" stroke="none" stroke-width="0"/>
<circle cx="157.80" cy="456.00" r="1.4" fill="#34205e" stroke="none" stroke-width="0"/>
<circle cx="75.90" cy="436.20" r="2.1" fill="#d9a24a" stroke="none" stroke-width="0"/>
<circle cx="89.80" cy="436.20" r="2.1" fill="#d9a24a" stroke="none" stroke-width="0"/>
<circle cx="103.20" cy="435.90" r="2.1" fill="#d9a24a" stroke="none" stroke-width="0"/>
<circle cx="117.10" cy="439.00" r="2.1" fill="#d9a24a" stroke="none" stroke-width="0"/>
<circle cx="130.80" cy="455.00" r="2.1" fill="#d9a24a" stroke="none" stroke-width="0"/>
<circle cx="144.50" cy="456.00" r="2.1" fill="#d9a24a" stroke="none" stroke-width="0"/>
<circle cx="157.80" cy="456.00" r="2.1" fill="#d9a24a" stroke="none" stroke-width="0"/>
<path d="M74.14 431.92L77.66 431.92L75.90 434.96Z" fill="#1e3160" stroke="none" stroke-width="0"/>
<path d="M88.04 431.92L91.56 431.92L89.80 434.96Z" fill="#1e3160" stroke="none" stroke-width="0"/>
<path d="M101.44 433.22L104.96 433.22L103.20 436.26Z" fill="#1e3160" stroke="none" stroke-width="0"/>
<path d="M115.34 435.32L118.86 435.32L117.10 438.36Z" fill="#1e3160" stroke="none" stroke-width="0"/>
<path d="M129.04 453.72L132.56 453.72L130.80 456.76Z" fill="#1e3160" stroke="none" stroke-width="0"/>
<path d="M142.74 454.72L146.26 454.72L144.50 457.76Z" fill="#1e3160" stroke="none" stroke-width="0"/>
<path d="M156.04 454.72L159.56 454.72L157.80 457.76Z" fill="#1e3160" stroke="none" stroke-width="0"/>
<path d="M75.90 432.44L77.46 434.00L75.90 435.56L74.34 434.00Z" fill="#1f2f5a" stroke="none" stroke-width="0"/>
<path d="M89.80 432.44L91.36 434.00L89.80 435.56L88.24 434.00Z" fill="#1f2f5a" stroke="none" stroke-width="0"/>
<path d="M103.20 433.44L104.76 435.00L103.20 436.56L101.64 435.00Z" fill="#1f2f5a" stroke="none" stroke-width="0"/>
<path d="M117.10 435.44L118.66 437.00L117.10 438.56L115.54 437.00Z" fill="#1f2f5a" stroke="none" stroke-width="0"/>
<path d="M130.80 453.44L132.36 455.00L130.80 456.56L129.24 455.00Z" fill="#1f2f5a" stroke="none" stroke-width="0"/>
<path d="M144.50 454.44L146.06 456.00L144.50 457.56L142.94 456.00Z" fill="#1f2f5a" stroke="none" stroke-width="0"/>
<path d="M157.80 454.44L159.36 456.00L157.80 457.56L156.24 456.00Z" fill="#1f2f5a" stroke="none" stroke-width="0"/>
<rect x="73.80" y="419.50" width="4.20" height="4.20" fill="#d81a74" stroke="none" stroke-width="0"/>
<rect x="87.70" y="418.70" width="4.20" height="4.20" fill="#d81a74" stroke="none" stroke-width="0"/>
<rect x="101.10" y="419.50" width="4.20" height="4.20" fill="#d81a74" stroke="none" stroke-width="0"/>
<rect x="115.00" y="429.90" width="4.20" height="4.20" fill="#d81a74" stroke="none" stroke-width="0"/>
<rect x="128.70" y="453.40" width="4.20" height="4.20" fill="#d81a74" stroke="none" stroke-width="0"/>
<rect x="142.40" y="453.90" width="4.20" height="4.20" fill="#d81a74" stroke="none" stroke-width="0"/>
<rect x="155.70" y="453.90" width="4.20" height="4.20" fill="#d81a74" stroke="none" stroke-width="0"/>
<path d="M73.70 412.20L78.10 412.20L75.90 408.40Z" fill="#d8207a" stroke="none" stroke-width="0"/>
<path d="M87.60 412.20L92.00 412.20L89.80 408.40Z" fill="#d8207a" stroke="none" stroke-width="0"/>
<path d="M101.00 413.50L105.40 413.50L103.20 409.70Z" fill="#d8207a" stroke="none" stroke-width="0"/>
<path d="M114.90 412.60L119.30 412.60L117.10 408.80Z" fill="#d8207a" stroke="none" stroke-width="0"/>
<path d="M128.60 444.20L133.00 444.20L130.80 440.40Z" fill="#d8207a" stroke="none" stroke-width="0"/>
<path d="M142.30 457.60L146.70 457.60L144.50 453.80Z" fill="#d8207a" stroke="none" stroke-width="0"/>
<path d="M155.60 457.60L160.00 457.60L157.80 453.80Z" fill="#d8207a" stroke="none" stroke-width="0"/>
<path d="M73.70 403.90L78.10 403.90L75.90 407.70Z" fill="#0f6a4a" stroke="none" stroke-width="0"/>
<path d="M87.60 403.90L92.00 403.90L89.80 407.70Z" fill="#0f6a4a" stroke="none" stroke-width="0"/>
<path d="M101.00 408.10L105.40 408.10L103.20 411.90Z" fill="#0f6a4a" stroke="none" stroke-width="0"/>
<path d="M114.90 424.90L119.30 424.90L117.10 428.70Z" fill="#0f6a4a" stroke="none" stroke-width="0"/>
<path d="M128.60 453.40L133.00 453.40L130.80 457.20Z" fill="#0f6a4a" stroke="none" stroke-width="0"/>
<path d="M142.30 454.40L146.70 454.40L144.50 458.20Z" fill="#0f6a4a" stroke="none" stroke-width="0"/>
<path d="M155.60 454.40L160.00 454.40L157.80 458.20Z" fill="#0f6a4a" stroke="none" stroke-width="0"/>
<path d="M75.90 398.50L78.30 400.90L75.90 403.30L73.50 400.90Z" fill="#38a2da" stroke="none" stroke-width="0"/>
<path d="M89.80 396.40L92.20 398.80L89.80 401.20L87.40 398.80Z" fill="#38a2da" stroke="none" stroke-width="0"/>
<path d="M103.20 403.10L105.60 405.50L103.20 407.90L100.80 405.50Z" fill="#38a2da" stroke="none" stroke-width="0"/>
<path d="M117.10 419.10L119.50 421.50L117.10 423.90L114.70 421.50Z" fill="#38a2da" stroke="none" stroke-width="0"/>
<path d="M130.80 452.60L133.20 455.00L130.80 457.40L128.40 455.00Z" fill="#38a2da" stroke="none" stroke-width="0"/>
<path d="M144.50 453.60L146.90 456.00L144.50 458.40L142.10 456.00Z" fill="#38a2da" stroke="none" stroke-width="0"/>
<path d="M157.80 453.60L160.20 456.00L157.80 458.40L155.40 456.00Z" fill="#38a2da" stroke="none" stroke-width="0"/>
<circle cx="75.90" cy="385.20" r="2.1" fill="#e8962a" stroke="none" stroke-width="0"/>
<circle cx="89.80" cy="387.70" r="2.1" fill="#e8962a" stroke="none" stroke-width="0"/>
<circle cx="103.20" cy="391.60" r="2.1" fill="#e8962a" stroke="none" stroke-width="0"/>
<circle cx="117.10" cy="417.00" r="1.6" fill="#f2c060" stroke="none" stroke-width="0"/>
<circle cx="130.80" cy="455.50" r="2.1" fill="#e8962a" stroke="none" stroke-width="0"/>
<circle cx="144.50" cy="456.00" r="2.1" fill="#e8962a" stroke="none" stroke-width="0"/>
<circle cx="157.80" cy="456.00" r="2.1" fill="#e8962a" stroke="none" stroke-width="0"/>
<rect x="128.90" y="453.70" width="3.80" height="3.80" fill="#ee8a2c" stroke="none" stroke-width="0"/>
<rect x="142.60" y="453.70" width="3.80" height="3.80" fill="#ee8a2c" stroke="none" stroke-width="0"/>
<rect x="155.90" y="453.70" width="3.80" height="3.80" fill="#ee8a2c" stroke="none" stroke-width="0"/>
<text x="267.20" y="363.20" font-size="6.6" text-anchor="middle" font-weight="normal" fill="#333">Panel Name</text>
<text x="312.30" y="363.20" font-size="6.6" text-anchor="middle" font-weight="normal" fill="#333">IC<tspan font-size="4.6" dy="1.4">50</tspan><tspan dy="-1.4"> (μM)</tspan></text>
<line x1="193.60" y1="376.30" x2="201.10" y2="376.30" stroke="#f0a94a" stroke-width="0.8"/>
<circle cx="197.30" cy="376.30" r="1.9" fill="#ec9a2e" stroke="none" stroke-width="0"/>
<text x="204.80" y="378.80" font-size="7.0" text-anchor="start" font-weight="normal" fill="#333">K562</text>
<text x="267.20" y="378.70" font-size="6.6" text-anchor="middle" font-weight="normal" fill="#333">Leukemia</text>
<text x="312.80" y="378.70" font-size="6.6" text-anchor="middle" font-weight="normal" fill="#333">0.6668</text>
<line x1="193.60" y1="386.95" x2="201.10" y2="386.95" stroke="#45b0cc" stroke-width="0.8"/>
<path d="M197.30 385.15L199.10 386.95L197.30 388.75L195.50 386.95Z" fill="#33aacb" stroke="none" stroke-width="0"/>
<text x="204.80" y="389.45" font-size="7.0" text-anchor="start" font-weight="normal" fill="#333">H9</text>
<text x="267.20" y="389.35" font-size="6.6" text-anchor="middle" font-weight="normal" fill="#333">Lymphoma</text>
<text x="312.80" y="389.35" font-size="6.6" text-anchor="middle" font-weight="normal" fill="#333">0.8682</text>
<line x1="193.60" y1="397.60" x2="201.10" y2="397.60" stroke="#d83a80" stroke-width="0.8"/>
<rect x="195.80" y="396.10" width="3.00" height="3.00" fill="#e01e78" stroke="none" stroke-width="0"/>
<text x="204.80" y="400.10" font-size="7.0" text-anchor="start" font-weight="normal" fill="#333">MOLT4</text>
<text x="267.20" y="400.00" font-size="6.6" text-anchor="middle" font-weight="normal" fill="#333">Leukemia</text>
<text x="312.80" y="400.00" font-size="6.6" text-anchor="middle" font-weight="normal" fill="#333">0.9405</text>
<line x1="193.60" y1="408.25" x2="201.10" y2="408.25" stroke="#e8b050" stroke-width="0.8"/>
<path d="M197.30 406.69L198.86 408.25L197.30 409.81L195.74 408.25Z" fill="#d4a04c" stroke="none" stroke-width="0"/>
<text x="204.80" y="410.75" font-size="7.0" text-anchor="start" font-weight="normal" fill="#333">DHL6</text>
<text x="267.20" y="410.65" font-size="6.6" text-anchor="middle" font-weight="normal" fill="#333">Lymphoma</text>
<text x="312.80" y="410.65" font-size="6.6" text-anchor="middle" font-weight="normal" fill="#333">1.005</text>
<line x1="193.60" y1="418.90" x2="201.10" y2="418.90" stroke="#5cae8a" stroke-width="0.8"/>
<path d="M195.21 417.38L199.39 417.38L197.30 420.99Z" fill="#0f6a4a" stroke="none" stroke-width="0"/>
<text x="204.80" y="421.40" font-size="7.0" text-anchor="start" font-weight="normal" fill="#333">HT29</text>
<text x="267.20" y="421.30" font-size="6.6" text-anchor="middle" font-weight="normal" fill="#333">Colon</text>
<text x="312.80" y="421.30" font-size="6.6" text-anchor="middle" font-weight="normal" fill="#333">0.7964</text>
<line x1="193.60" y1="429.55" x2="201.10" y2="429.55" stroke="#3aa08a" stroke-width="0.8"/>
<path d="M196.09 430.43L198.51 430.43L197.30 428.34Z" fill="#1a5e3a" stroke="none" stroke-width="0"/>
<text x="204.80" y="432.05" font-size="7.0" text-anchor="start" font-weight="normal" fill="#333">SKMEL2</text>
<text x="267.20" y="431.95" font-size="6.6" text-anchor="middle" font-weight="normal" fill="#333">Melanoma</text>
<text x="312.80" y="431.95" font-size="6.6" text-anchor="middle" font-weight="normal" fill="#333">1.323</text>
<line x1="193.60" y1="440.20" x2="201.10" y2="440.20" stroke="#3b4f8a" stroke-width="0.8"/>
<path d="M197.30 438.28L199.22 440.20L197.30 442.12L195.38 440.20Z" fill="#1f2f5a" stroke="none" stroke-width="0"/>
<text x="204.80" y="442.70" font-size="7.0" text-anchor="start" font-weight="normal" fill="#333">786-O</text>
<text x="267.20" y="442.60" font-size="6.6" text-anchor="middle" font-weight="normal" fill="#333">Renal</text>
<text x="312.80" y="442.60" font-size="6.6" text-anchor="middle" font-weight="normal" fill="#333">1.309</text>
<line x1="193.60" y1="450.85" x2="201.10" y2="450.85" stroke="#e45596" stroke-width="0.8"/>
<path d="M195.21 452.37L199.39 452.37L197.30 448.76Z" fill="#d8207a" stroke="none" stroke-width="0"/>
<text x="204.80" y="453.35" font-size="7.0" text-anchor="start" font-weight="normal" fill="#333">H460</text>
<text x="267.20" y="453.25" font-size="6.6" text-anchor="middle" font-weight="normal" fill="#333">NSCLC</text>
<text x="312.80" y="453.25" font-size="6.6" text-anchor="middle" font-weight="normal" fill="#333">2.062</text>
<line x1="193.60" y1="461.50" x2="201.10" y2="461.50" stroke="#7ab6d8" stroke-width="0.8"/>
<path d="M195.71 460.34L198.90 460.34L197.30 463.10Z" fill="#1e3160" stroke="none" stroke-width="0"/>
<text x="204.80" y="464.00" font-size="7.0" text-anchor="start" font-weight="normal" fill="#333">MCF7</text>
<text x="267.20" y="463.90" font-size="6.6" text-anchor="middle" font-weight="normal" fill="#333">Breast</text>
<text x="312.80" y="463.90" font-size="6.6" text-anchor="middle" font-weight="normal" fill="#333">1.175</text>
<line x1="193.60" y1="472.15" x2="201.10" y2="472.15" stroke="#a060c0" stroke-width="0.8"/>
<circle cx="197.30" cy="472.15" r="1.1" fill="#34205e" stroke="none" stroke-width="0"/>
<text x="204.80" y="474.65" font-size="7.0" text-anchor="start" font-weight="normal" fill="#333">MDAMB231</text>
<text x="267.20" y="474.55" font-size="6.6" text-anchor="middle" font-weight="normal" fill="#333">Breast</text>
<text x="312.80" y="474.55" font-size="6.6" text-anchor="middle" font-weight="normal" fill="#333">1.007</text>
<line x1="380.50" y1="378.00" x2="380.50" y2="456.70" stroke="#333" stroke-width="1.1"/>
<line x1="380.50" y1="456.20" x2="495.00" y2="456.20" stroke="#333" stroke-width="1.1"/>
<line x1="377.70" y1="456.20" x2="380.50" y2="456.20" stroke="#333" stroke-width="0.9"/>
<text x="374.70" y="458.20" font-size="7.4" text-anchor="end" font-weight="normal" fill="#333">0</text>
<line x1="377.70" y1="443.70" x2="380.50" y2="443.70" stroke="#333" stroke-width="0.9"/>
<text x="374.70" y="445.70" font-size="7.4" text-anchor="end" font-weight="normal" fill="#333">20</text>
<line x1="377.70" y1="431.20" x2="380.50" y2="431.20" stroke="#333" stroke-width="0.9"/>
<text x="374.70" y="433.20" font-size="7.4" text-anchor="end" font-weight="normal" fill="#333">40</text>
<line x1="377.70" y1="418.70" x2="380.50" y2="418.70" stroke="#333" stroke-width="0.9"/>
<text x="374.70" y="420.70" font-size="7.4" text-anchor="end" font-weight="normal" fill="#333">60</text>
<line x1="377.70" y1="406.20" x2="380.50" y2="406.20" stroke="#333" stroke-width="0.9"/>
<text x="374.70" y="408.20" font-size="7.4" text-anchor="end" font-weight="normal" fill="#333">80</text>
<line x1="377.70" y1="393.70" x2="380.50" y2="393.70" stroke="#333" stroke-width="0.9"/>
<text x="374.70" y="395.70" font-size="7.4" text-anchor="end" font-weight="normal" fill="#333">100</text>
<line x1="377.70" y1="381.20" x2="380.50" y2="381.20" stroke="#333" stroke-width="0.9"/>
<text x="374.70" y="383.20" font-size="7.4" text-anchor="end" font-weight="normal" fill="#333">120</text>
<line x1="380.80" y1="456.20" x2="380.80" y2="458.80" stroke="#333" stroke-width="0.9"/>
<text x="380.80" y="468.30" font-size="7.4" text-anchor="middle" font-weight="normal" fill="#333">0.1</text>
<line x1="429.60" y1="456.20" x2="429.60" y2="458.80" stroke="#333" stroke-width="0.9"/>
<text x="429.60" y="468.30" font-size="7.4" text-anchor="middle" font-weight="normal" fill="#333">1</text>
<line x1="478.40" y1="456.20" x2="478.40" y2="458.80" stroke="#333" stroke-width="0.9"/>
<text x="478.40" y="468.30" font-size="7.4" text-anchor="middle" font-weight="normal" fill="#333">10</text>
<line x1="395.49" y1="456.20" x2="395.49" y2="457.70" stroke="#333" stroke-width="0.6"/>
<line x1="404.08" y1="456.20" x2="404.08" y2="457.70" stroke="#333" stroke-width="0.6"/>
<line x1="410.18" y1="456.20" x2="410.18" y2="457.70" stroke="#333" stroke-width="0.6"/>
<line x1="414.91" y1="456.20" x2="414.91" y2="457.70" stroke="#333" stroke-width="0.6"/>
<line x1="418.77" y1="456.20" x2="418.77" y2="457.70" stroke="#333" stroke-width="0.6"/>
<line x1="422.04" y1="456.20" x2="422.04" y2="457.70" stroke="#333" stroke-width="0.6"/>
<line x1="424.87" y1="456.20" x2="424.87" y2="457.70" stroke="#333" stroke-width="0.6"/>
<line x1="427.37" y1="456.20" x2="427.37" y2="457.70" stroke="#333" stroke-width="0.6"/>
<line x1="444.29" y1="456.20" x2="444.29" y2="457.70" stroke="#333" stroke-width="0.6"/>
<line x1="452.88" y1="456.20" x2="452.88" y2="457.70" stroke="#333" stroke-width="0.6"/>
<line x1="458.98" y1="456.20" x2="458.98" y2="457.70" stroke="#333" stroke-width="0.6"/>
<line x1="463.71" y1="456.20" x2="463.71" y2="457.70" stroke="#333" stroke-width="0.6"/>
<line x1="467.57" y1="456.20" x2="467.57" y2="457.70" stroke="#333" stroke-width="0.6"/>
<line x1="470.84" y1="456.20" x2="470.84" y2="457.70" stroke="#333" stroke-width="0.6"/>
<line x1="473.67" y1="456.20" x2="473.67" y2="457.70" stroke="#333" stroke-width="0.6"/>
<line x1="476.17" y1="456.20" x2="476.17" y2="457.70" stroke="#333" stroke-width="0.6"/>
<line x1="493.09" y1="456.20" x2="493.09" y2="457.70" stroke="#333" stroke-width="0.6"/>
<text x="356.60" y="417.30" font-size="7.9" text-anchor="middle" font-weight="normal" fill="#333" transform="rotate(-90 356.60 417.30)" textLength="44" lengthAdjust="spacingAndGlyphs" style="stroke-width:0.3px">Relative viability</text>
<text x="437.90" y="481.30" font-size="7.5" text-anchor="middle" font-weight="normal" fill="#333" textLength="27.5" lengthAdjust="spacingAndGlyphs" style="stroke-width:0.3px">PA4 (μM)</text>
<line x1="404.70" y1="391.10" x2="404.70" y2="398.10" stroke="#3fa7dc" stroke-width="0.7"/>
<line x1="403.50" y1="391.10" x2="405.90" y2="391.10" stroke="#3fa7dc" stroke-width="0.7"/>
<line x1="403.50" y1="398.10" x2="405.90" y2="398.10" stroke="#3fa7dc" stroke-width="0.7"/>
<line x1="419.20" y1="396.80" x2="419.20" y2="399.80" stroke="#3fa7dc" stroke-width="0.7"/>
<line x1="418.00" y1="396.80" x2="420.40" y2="396.80" stroke="#3fa7dc" stroke-width="0.7"/>
<line x1="418.00" y1="399.80" x2="420.40" y2="399.80" stroke="#3fa7dc" stroke-width="0.7"/>
<line x1="434.40" y1="421.60" x2="434.40" y2="426.60" stroke="#3fa7dc" stroke-width="0.7"/>
<line x1="433.20" y1="421.60" x2="435.60" y2="421.60" stroke="#3fa7dc" stroke-width="0.7"/>
<line x1="433.20" y1="426.60" x2="435.60" y2="426.60" stroke="#3fa7dc" stroke-width="0.7"/>
<line x1="404.70" y1="392.70" x2="404.70" y2="398.70" stroke="#b8203e" stroke-width="0.7"/>
<line x1="403.50" y1="392.70" x2="405.90" y2="392.70" stroke="#b8203e" stroke-width="0.7"/>
<line x1="403.50" y1="398.70" x2="405.90" y2="398.70" stroke="#b8203e" stroke-width="0.7"/>
<line x1="434.40" y1="392.30" x2="434.40" y2="398.30" stroke="#b8203e" stroke-width="0.7"/>
<line x1="433.20" y1="392.30" x2="435.60" y2="392.30" stroke="#b8203e" stroke-width="0.7"/>
<line x1="433.20" y1="398.30" x2="435.60" y2="398.30" stroke="#b8203e" stroke-width="0.7"/>
<line x1="449.10" y1="388.20" x2="449.10" y2="394.20" stroke="#b8203e" stroke-width="0.7"/>
<line x1="447.90" y1="388.20" x2="450.30" y2="388.20" stroke="#b8203e" stroke-width="0.7"/>
<line x1="447.90" y1="394.20" x2="450.30" y2="394.20" stroke="#b8203e" stroke-width="0.7"/>
<line x1="463.70" y1="443.20" x2="463.70" y2="446.20" stroke="#b8203e" stroke-width="0.7"/>
<line x1="462.50" y1="443.20" x2="464.90" y2="443.20" stroke="#b8203e" stroke-width="0.7"/>
<line x1="462.50" y1="446.20" x2="464.90" y2="446.20" stroke="#b8203e" stroke-width="0.7"/>
<path d="M404.7 395.7 L419.2 396.3 L434.4 395.3 L449.1 391.2 L463.7 444.7 L478.2 451.8" fill="none" stroke="#b8203e" stroke-width="0.9"/>
<rect x="403.10" y="394.10" width="3.20" height="3.20" fill="#b8203e" stroke="none" stroke-width="0"/>
<rect x="417.60" y="394.70" width="3.20" height="3.20" fill="#b8203e" stroke="none" stroke-width="0"/>
<rect x="432.80" y="393.70" width="3.20" height="3.20" fill="#b8203e" stroke="none" stroke-width="0"/>
<rect x="447.50" y="389.60" width="3.20" height="3.20" fill="#b8203e" stroke="none" stroke-width="0"/>
<rect x="462.10" y="443.10" width="3.20" height="3.20" fill="#b8203e" stroke="none" stroke-width="0"/>
<rect x="476.60" y="450.20" width="3.20" height="3.20" fill="#b8203e" stroke="none" stroke-width="0"/>
<path d="M404.7 394.6 L419.2 398.3 L434.4 424.1 L449.1 451.8 L463.7 455.3 L478.2 455.9" fill="none" stroke="#3fa7dc" stroke-width="0.9"/>
<circle cx="404.70" cy="394.60" r="1.5" fill="#3fa7dc" stroke="none" stroke-width="0"/>
<circle cx="419.20" cy="398.30" r="1.5" fill="#3fa7dc" stroke="none" stroke-width="0"/>
<circle cx="434.40" cy="424.10" r="1.5" fill="#3fa7dc" stroke="none" stroke-width="0"/>
<circle cx="449.10" cy="451.80" r="1.5" fill="#3fa7dc" stroke="none" stroke-width="0"/>
<circle cx="463.70" cy="455.30" r="1.5" fill="#3fa7dc" stroke="none" stroke-width="0"/>
<circle cx="478.20" cy="455.90" r="1.5" fill="#3fa7dc" stroke="none" stroke-width="0"/>
<line x1="469.70" y1="384.50" x2="477.80" y2="384.50" stroke="#3fa7dc" stroke-width="0.9"/>
<circle cx="473.80" cy="384.50" r="1.5" fill="#3fa7dc" stroke="none" stroke-width="0"/>
<text x="480.90" y="387.00" font-size="7.3" text-anchor="start" font-weight="normal" fill="#333">H9</text>
<line x1="469.70" y1="395.30" x2="477.80" y2="395.30" stroke="#b8203e" stroke-width="0.9"/>
<rect x="472.20" y="393.70" width="3.20" height="3.20" fill="#b8203e" stroke="none" stroke-width="0"/>
<text x="480.90" y="397.80" font-size="7.3" text-anchor="start" font-weight="normal" fill="#333">PBMC</text>
<text x="186.80" y="546.70" font-size="7.4" text-anchor="start" font-weight="normal" fill="#222" transform="rotate(-45 186.80 546.70)" style="stroke-width:0.16px">MOLT4</text>
<text x="209.80" y="546.70" font-size="7.4" text-anchor="start" font-weight="normal" fill="#222" transform="rotate(-45 209.80 546.70)" style="stroke-width:0.16px">K562</text>
<text x="231.70" y="546.70" font-size="7.4" text-anchor="start" font-weight="normal" fill="#222" transform="rotate(-45 231.70 546.70)" style="stroke-width:0.16px">H9</text>
<text x="247.70" y="546.70" font-size="7.4" text-anchor="start" font-weight="normal" fill="#222" transform="rotate(-45 247.70 546.70)" style="stroke-width:0.16px">DHL6</text>
<text x="266.60" y="546.70" font-size="7.4" text-anchor="start" font-weight="normal" fill="#222" transform="rotate(-45 266.60 546.70)" style="stroke-width:0.16px">MCF7</text>
<text x="284.70" y="546.70" font-size="7.4" text-anchor="start" font-weight="normal" fill="#222" transform="rotate(-45 284.70 546.70)" style="stroke-width:0.16px">MDAMB231</text>
<text x="305.20" y="546.70" font-size="7.4" text-anchor="start" font-weight="normal" fill="#222" transform="rotate(-45 305.20 546.70)" style="stroke-width:0.16px">786-O</text>
<text x="325.20" y="546.70" font-size="7.4" text-anchor="start" font-weight="normal" fill="#222" transform="rotate(-45 325.20 546.70)" style="stroke-width:0.16px">H460</text>
<text x="345.20" y="546.70" font-size="7.4" text-anchor="start" font-weight="normal" fill="#222" transform="rotate(-45 345.20 546.70)" style="stroke-width:0.16px">HT29</text>
<text x="360.50" y="546.70" font-size="7.4" text-anchor="start" font-weight="normal" fill="#222" transform="rotate(-45 360.50 546.70)" style="stroke-width:0.16px">SKMEL2</text>
<text x="171.50" y="563.50" font-size="7.3" text-anchor="end" font-weight="normal" fill="#222">p-CAMKII<tspan font-style="italic">γ</tspan></text>
<text x="171.20" y="586.80" font-size="7.3" text-anchor="end" font-weight="normal" fill="#222">GAPDH</text>
<defs>
<linearGradient id="bg1" x1="0" y1="0" x2="0" y2="1"><stop offset="0" stop-color="#c3c3c3"/><stop offset="0.3" stop-color="#cdcdcd"/><stop offset="0.7" stop-color="#d8d8d8"/><stop offset="0.88" stop-color="#e6e6e6"/><stop offset="1" stop-color="#d6d6d6"/></linearGradient>
<filter id="blur1" x="-30%" y="-80%" width="160%" height="260%"><feGaussianBlur stdDeviation="1.3 1.2"/></filter>
<filter id="blur2" x="-30%" y="-80%" width="160%" height="260%"><feGaussianBlur stdDeviation="0.8 0.7"/></filter>
</defs>
<rect x="174.60" y="548.40" width="194.00" height="20.60" fill="url(#bg1)" stroke="#3a3a3a" stroke-width="1.0" rx="0.8"/>
<rect x="178.7" y="557.2" width="13" height="5.6" rx="2.8" fill="#888888" filter="url(#blur1)"/>
<rect x="197.8" y="557.2" width="13" height="5.6" rx="2.8" fill="#989898" filter="url(#blur1)"/>
<rect x="218.0" y="557.2" width="14" height="5.6" rx="2.8" fill="#545454" filter="url(#blur1)"/>
<rect x="238.05" y="557.2" width="13.5" height="5.6" rx="2.8" fill="#969696" filter="url(#blur1)"/>
<rect x="258.5" y="557.2" width="11" height="5.6" rx="2.8" fill="#c8c8c8" filter="url(#blur1)"/>
<rect x="277.7" y="557.2" width="13" height="5.6" rx="2.8" fill="#959595" filter="url(#blur1)"/>
<rect x="296.5" y="557.2" width="11" height="5.6" rx="2.8" fill="#cdcdcd" filter="url(#blur1)"/>
<rect x="315.9" y="557.2" width="13" height="5.6" rx="2.8" fill="#868686" filter="url(#blur1)"/>
<rect x="334.55" y="557.2" width="13.5" height="5.6" rx="2.8" fill="#000000" filter="url(#blur1)"/>
<rect x="352.5" y="557.2" width="11" height="5.6" rx="2.8" fill="#cccccc" filter="url(#blur1)"/>
<rect x="174.60" y="573.60" width="194.60" height="20.60" fill="#f3f3f3" stroke="#3a3a3a" stroke-width="1.0" rx="0.8"/>
<rect x="179.65" y="582.4" width="13.5" height="4.0" rx="2.0" fill="#1e1e1e" filter="url(#blur2)"/>
<rect x="199.55" y="582.4" width="12.5" height="4.0" rx="2.0" fill="#6e6e6e" filter="url(#blur2)"/>
<rect x="218.0" y="582.4" width="14" height="4.0" rx="2.0" fill="#050505" filter="url(#blur2)"/>
<rect x="238.0" y="582.4" width="14" height="4.0" rx="2.0" fill="#0a0a0a" filter="url(#blur2)"/>
<rect x="257.75" y="582.4" width="12.5" height="4.0" rx="2.0" fill="#7a7a7a" filter="url(#blur2)"/>
<rect x="276.95" y="582.4" width="13.5" height="4.0" rx="2.0" fill="#242424" filter="url(#blur2)"/>
<rect x="295.15" y="582.4" width="13.5" height="4.0" rx="2.0" fill="#606060" filter="url(#blur2)"/>
<rect x="314.0" y="582.4" width="14" height="4.0" rx="2.0" fill="#1a1a1a" filter="url(#blur2)"/>
<rect x="333.0" y="582.4" width="13" height="4.0" rx="2.0" fill="#606060" filter="url(#blur2)"/>
<rect x="351.0" y="582.4" width="14" height="4.0" rx="2.0" fill="#3a3a3a" filter="url(#blur2)"/>
<line x1="0" y1="0.5" x2="520" y2="0.5" stroke="#6c6c6c" stroke-width="1"/>
<line x1="0.5" y1="0" x2="0.5" y2="601" stroke="#5c5c5c" stroke-width="1"/>
<line x1="519.5" y1="0" x2="519.5" y2="601" stroke="#3c3c3c" stroke-width="1"/>
<line x1="0" y1="600.5" x2="520" y2="600.5" stroke="#555" stroke-width="1"/>
</svg></body></html>
